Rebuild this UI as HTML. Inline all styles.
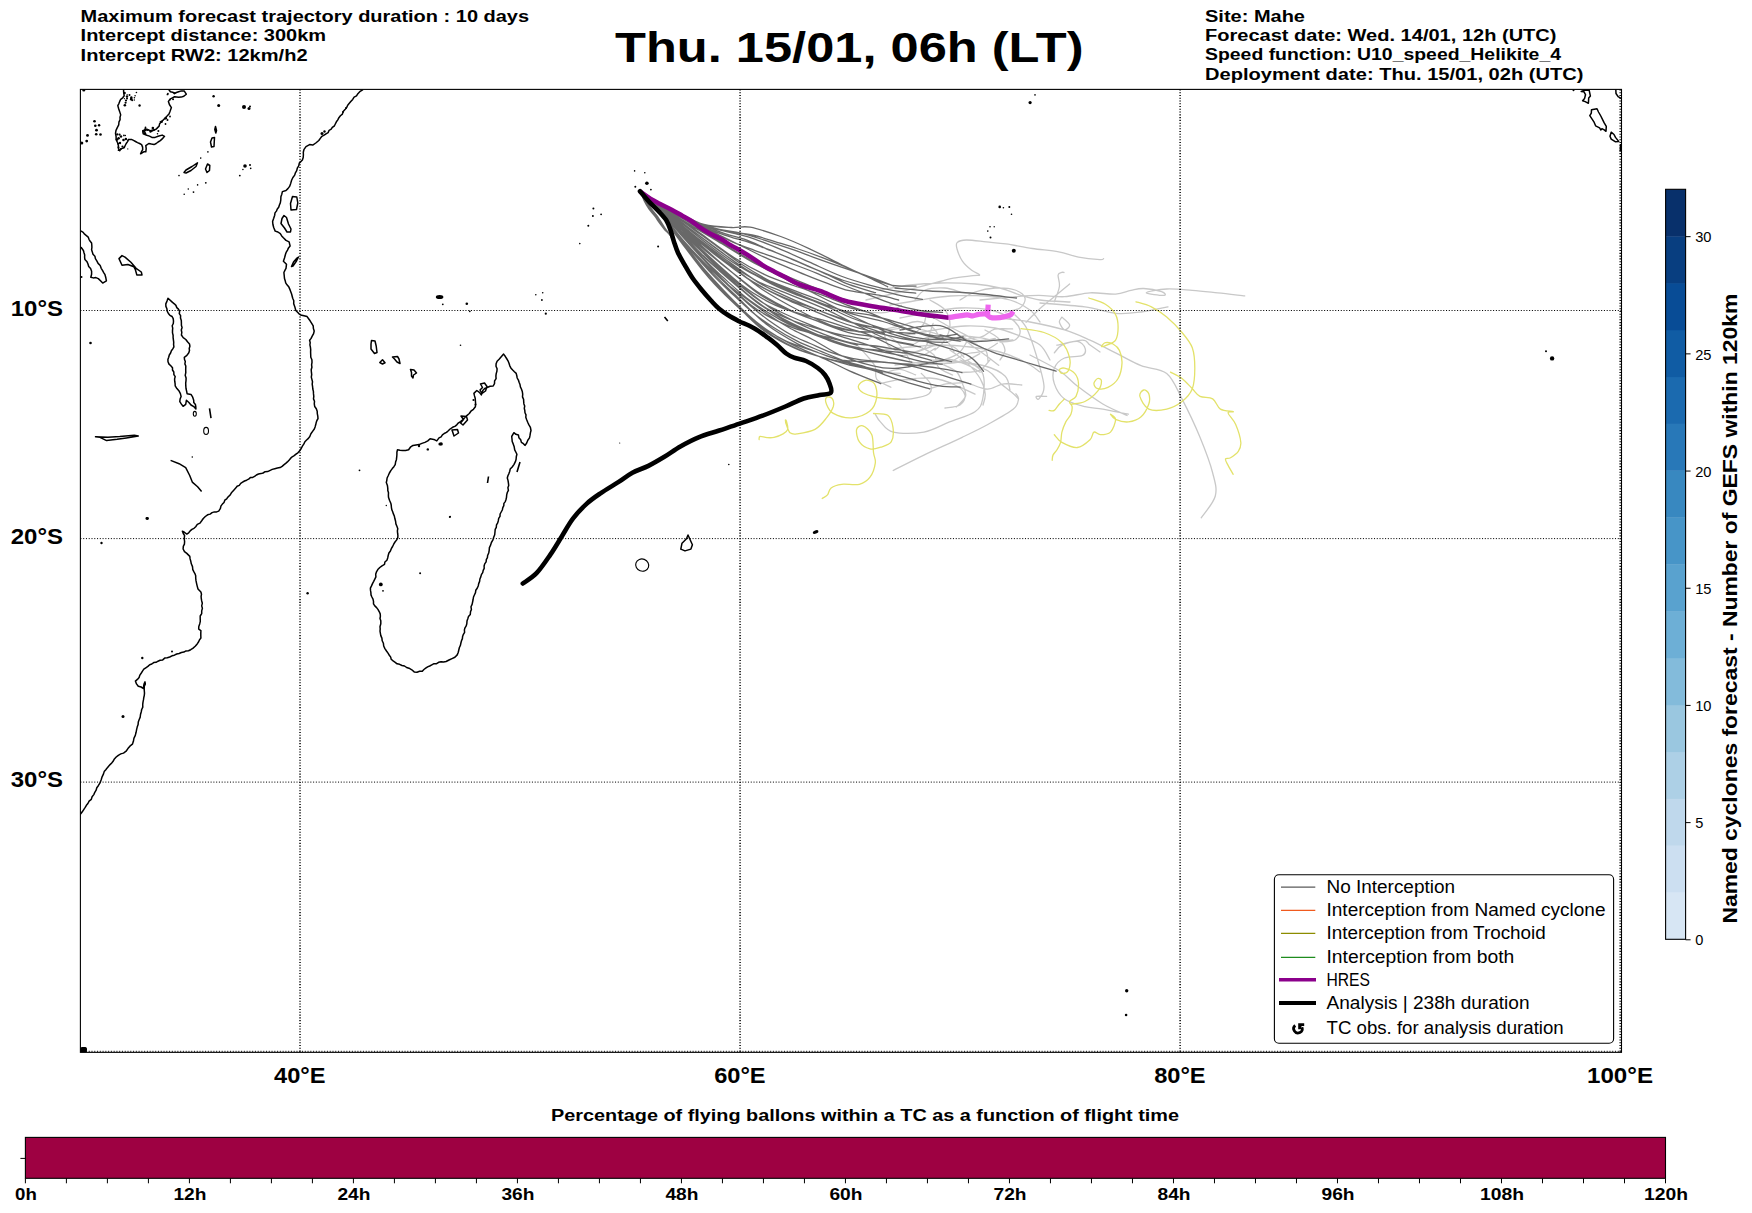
<!DOCTYPE html>
<html><head><meta charset="utf-8"><style>
html,body{margin:0;padding:0;background:#fff;width:1752px;height:1213px;overflow:hidden}
svg{display:block}
text{font-family:"Liberation Sans", sans-serif;fill:#000}
</style></head><body>
<svg width="1752" height="1213" viewBox="0 0 1752 1213">
<defs><clipPath id="mc"><rect x="80.4" y="89.4" width="1541" height="963"/></clipPath></defs>
<g clip-path="url(#mc)"><path d="M123.6 89.0 L123.6 91.8 L124.2 95.8 L122.7 97.8 L120.7 99.3 L119.7 101.4 L118.9 103.6 L117.8 105.6 L118.6 108.5 L119.6 111.4 L120.7 114.9 L120.0 117.2 L120.1 119.6 L119.0 121.8 L118.7 124.9 L117.3 127.6 L116.0 130.3 L115.5 133.3 L116.1 136.5 L116.1 139.7 L117.5 142.5 L118.4 145.5 L118.4 148.2 L119.6 150.7 L121.1 148.7 L124.2 147.6 L125.2 145.5 L126.2 143.5 L127.6 141.6 L128.3 139.4 L131.4 139.4 L133.5 140.4 L135.5 141.5 L137.5 142.6 L139.6 143.5 L141.6 144.6 L142.6 147.1 L142.7 149.7 L141.5 151.7 L140.6 153.8 L143.7 151.8 L145.8 151.8 L146.2 148.7 L145.8 145.6 L148.8 143.5 L151.4 144.1 L154.0 144.6 L156.2 143.5 L158.1 142.0 L160.3 140.6 L162.2 138.9 L164.5 136.3 L162.2 135.1 L158.1 136.3 L155.1 137.4 L151.9 137.4 L149.5 136.1 L146.8 135.3 L143.2 133.8 L142.7 130.7 L146.8 129.2 L149.3 130.3 L151.9 131.2 L153.8 130.0 L156.0 129.2 L159.1 126.1 L159.6 123.8 L161.2 122.0 L164.2 118.9 L167.3 115.8 L169.0 114.0 L169.9 111.7 L171.4 107.6 L169.4 104.5 L168.4 101.4 L170.4 98.8 L172.4 97.8 L174.5 96.8 L178.6 97.3 L181.2 97.1 L183.8 96.3 L186.3 94.2 L184.3 91.1 L181.4 90.9 L178.6 91.7 L176.4 92.5 L174.5 93.7 L172.7 92.2 L170.4 91.7 L168.4 89.0 Z M122.0 255.6 L119.0 258.6 L122.0 265.3 L127.9 264.5 L133.9 266.8 L135.4 269.7 L136.8 274.9 L142.0 274.9 L141.3 272.0 L136.1 268.3 L130.9 262.3 L125.0 257.1 Z M168.0 298.2 L167.0 301.1 L165.8 303.9 L165.9 306.4 L166.9 308.8 L167.3 311.3 L168.4 313.5 L169.9 315.3 L172.1 316.5 L173.2 318.7 L173.5 321.1 L173.3 323.5 L172.2 325.8 L172.7 328.2 L172.5 330.6 L172.5 332.9 L173.1 335.2 L173.1 337.6 L173.4 339.9 L173.7 342.2 L173.6 344.6 L173.9 346.9 L172.8 348.9 L171.4 350.8 L170.6 353.0 L169.3 355.0 L168.7 357.3 L167.9 359.4 L168.0 361.7 L169.0 364.1 L170.8 365.8 L172.5 367.7 L172.5 370.0 L173.8 372.0 L173.9 374.6 L175.2 376.6 L174.6 378.9 L174.7 381.2 L175.1 383.5 L175.2 385.8 L176.9 388.6 L179.1 391.1 L180.4 393.6 L181.1 396.4 L180.1 399.0 L179.8 401.7 L181.4 404.1 L183.1 406.3 L185.7 404.3 L186.4 400.3 L188.9 402.5 L191.0 405.0 L193.8 406.6 L195.9 409.0 L195.8 406.7 L195.4 404.5 L193.8 402.6 L193.7 400.3 L192.7 397.2 L191.0 394.4 L187.1 393.7 L186.6 391.1 L186.0 388.5 L185.8 385.9 L185.7 383.2 L186.0 380.6 L186.1 377.9 L185.2 375.3 L185.8 372.6 L185.7 370.0 L185.8 366.0 L184.9 363.9 L185.3 361.6 L184.5 359.5 L184.3 357.3 L186.9 355.4 L188.8 352.8 L189.5 350.6 L189.2 348.4 L189.9 346.2 L189.5 343.9 L187.5 341.8 L185.8 339.5 L183.2 337.6 L181.4 335.0 L181.8 332.5 L181.3 330.0 L182.1 327.6 L181.4 325.3 L181.4 322.9 L181.3 320.4 L180.5 318.1 L180.6 315.7 L179.3 313.7 L179.6 311.2 L178.4 309.1 L176.8 307.6 L175.9 305.4 L174.3 303.8 L172.5 302.4 Z M95.5 436.8 L100.0 437.3 L106.6 440.6 L117.1 439.3 L126.4 437.9 L138.3 436.0 L134.3 435.3 L119.8 436.6 L107.9 437.3 Z M184.0 172.5 L186.0 170.0 L192.0 166.5 L197.5 162.8 L196.0 166.5 L191.0 170.5 L186.0 173.0 Z M207.5 164.0 L209.8 165.5 L209.5 170.5 L207.0 172.5 L205.5 169.0 Z M215.5 126.5 L216.5 130.5 L215.8 133.0 L214.8 129.5 Z M212.0 138.0 L214.5 137.5 L214.0 146.5 L211.5 147.0 L210.5 142.0 Z M503.6 354.1 L505.2 356.3 L506.6 358.5 L508.0 360.8 L509.0 363.3 L509.8 365.8 L511.0 368.2 L512.7 370.0 L514.4 371.7 L516.2 373.4 L516.8 375.7 L517.2 378.0 L518.4 380.1 L519.1 382.3 L520.0 384.5 L520.4 386.9 L521.4 389.0 L522.3 391.5 L522.7 394.2 L522.5 396.9 L523.6 399.4 L523.7 401.6 L523.9 403.9 L524.7 406.0 L524.3 408.3 L524.8 410.5 L525.0 412.8 L526.0 414.9 L525.8 417.2 L526.7 419.7 L527.7 422.2 L528.8 424.6 L530.4 427.4 L531.0 430.5 L530.4 432.9 L530.0 435.4 L529.5 437.9 L527.8 440.3 L526.7 443.0 L525.1 445.4 L523.4 443.7 L521.4 442.4 L520.7 439.8 L518.9 437.7 L518.4 435.0 L515.9 434.3 L513.9 432.7 L511.7 436.5 L512.0 439.0 L512.2 441.5 L513.2 443.9 L514.2 446.8 L514.7 449.8 L515.8 452.0 L516.9 454.3 L516.3 456.7 L516.1 459.3 L515.4 461.7 L513.9 464.6 L512.2 467.0 L510.2 469.1 L509.7 471.4 L508.9 473.6 L507.9 475.7 L507.3 478.0 L508.0 480.4 L508.4 482.9 L508.7 485.4 L507.9 487.7 L508.4 490.3 L507.3 492.5 L506.7 494.9 L506.5 497.3 L506.0 499.5 L505.3 501.6 L503.9 503.4 L503.8 505.7 L502.8 507.7 L502.3 510.0 L501.2 512.0 L500.1 514.0 L500.0 516.4 L498.7 518.4 L498.3 520.7 L497.7 522.9 L496.5 524.9 L496.3 527.3 L495.2 529.4 L495.0 531.7 L494.7 534.7 L493.6 537.6 L492.8 540.2 L491.4 542.5 L490.6 545.1 L489.4 547.6 L489.2 550.3 L488.7 553.0 L487.6 555.5 L487.4 557.7 L486.3 559.7 L486.1 561.9 L484.7 563.9 L484.1 566.0 L484.2 568.3 L483.2 570.3 L482.7 572.6 L481.4 574.6 L480.8 576.9 L479.9 579.0 L479.6 581.4 L478.7 583.6 L478.2 586.0 L477.2 588.2 L475.8 590.2 L475.5 592.6 L474.5 594.8 L473.5 597.0 L473.1 599.5 L472.6 602.0 L472.1 604.4 L471.0 606.8 L471.4 609.4 L470.5 611.8 L470.3 614.4 L468.5 616.4 L467.8 618.8 L467.0 621.1 L466.8 623.7 L466.2 625.9 L465.0 627.8 L464.4 629.9 L464.6 632.3 L463.4 634.3 L462.6 636.4 L462.4 638.6 L461.5 640.8 L460.9 643.0 L460.4 645.4 L459.4 647.5 L458.8 650.0 L458.2 652.5 L457.2 654.9 L454.9 657.2 L452.0 658.6 L449.0 660.0 L446.1 661.5 L443.6 662.0 L441.1 661.7 L438.6 662.3 L436.6 663.7 L434.0 663.7 L431.8 664.9 L429.7 666.0 L427.6 666.9 L425.7 668.2 L423.9 669.5 L422.3 671.2 L419.6 671.3 L417.0 672.2 L414.2 671.9 L411.8 669.8 L409.0 668.2 L406.6 667.5 L404.5 666.0 L402.0 665.5 L399.6 664.3 L397.1 663.8 L395.2 662.3 L393.1 660.9 L391.2 659.3 L390.7 657.1 L389.3 655.3 L388.2 653.4 L386.5 651.0 L384.9 648.6 L383.7 646.0 L383.4 643.3 L382.2 640.8 L381.9 638.1 L380.8 635.6 L380.4 633.4 L380.0 631.2 L380.2 628.9 L380.0 626.7 L380.8 623.8 L380.8 620.7 L380.0 618.5 L380.4 616.2 L380.2 613.9 L379.3 611.8 L378.1 609.6 L376.6 607.6 L374.8 605.9 L373.5 603.9 L373.5 601.4 L373.0 599.1 L371.9 597.0 L371.0 594.9 L370.9 592.6 L370.5 590.4 L370.4 588.1 L371.5 585.9 L372.5 583.6 L373.7 581.4 L374.8 579.2 L375.9 576.9 L375.7 574.2 L376.5 571.8 L377.8 569.6 L379.8 567.5 L382.0 565.8 L384.5 564.4 L384.9 562.0 L386.9 560.2 L387.7 557.9 L388.2 555.5 L388.9 553.0 L390.4 551.0 L391.3 548.7 L392.6 546.5 L393.7 544.2 L395.0 542.0 L396.7 539.9 L397.8 537.6 L397.9 535.4 L397.6 533.2 L397.4 530.9 L397.8 528.7 L396.9 526.3 L395.9 523.9 L395.6 521.3 L394.9 518.8 L394.4 516.3 L393.4 513.9 L392.7 511.7 L391.8 509.6 L391.4 507.3 L391.2 505.0 L390.8 503.2 L389.5 500.3 L388.5 497.3 L388.4 495.1 L388.5 492.8 L387.8 490.6 L387.8 488.4 L387.4 485.4 L386.3 482.5 L386.8 480.3 L387.1 478.0 L388.3 475.5 L389.4 473.0 L390.8 470.6 L392.3 468.6 L393.9 466.7 L395.2 464.6 L395.6 462.1 L396.4 459.7 L396.7 457.2 L396.9 454.7 L396.9 452.2 L397.5 449.8 L400.0 450.2 L402.6 450.5 L405.6 450.4 L408.6 449.8 L410.4 447.2 L413.0 445.4 L416.0 444.9 L419.0 444.6 L421.9 443.4 L424.9 442.4 L427.8 440.9 L430.1 438.7 L433.8 439.4 L436.8 440.9 L439.0 437.9 L441.1 436.8 L442.4 434.9 L444.2 433.5 L446.5 432.4 L448.3 430.8 L450.1 429.0 L452.6 427.3 L455.3 426.1 L457.0 424.6 L458.5 422.8 L460.5 421.6 L463.0 419.7 L465.0 417.2 L467.1 415.3 L469.3 413.5 L470.9 411.2 L473.4 409.3 L475.4 406.8 L475.6 403.8 L475.4 400.8 L475.2 398.3 L474.5 395.9 L473.9 393.4 L476.8 390.5 L479.4 392.4 L481.3 394.9 L482.1 392.7 L482.8 390.5 L484.7 388.5 L487.2 387.5 L490.1 386.3 L493.2 386.0 L494.5 383.7 L494.6 380.9 L496.1 378.6 L495.9 376.1 L496.2 373.6 L496.9 371.2 L497.1 368.7 L496.0 366.2 L496.1 363.7 L497.1 361.2 L499.1 359.3 Z M1591.5 109.7 L1597.0 108.8 L1598.5 112.0 L1600.8 116.0 L1604.2 122.9 L1606.3 126.4 L1606.0 131.3 L1604.2 129.9 L1601.9 128.7 L1600.8 129.9 L1599.6 127.8 L1595.6 125.8 L1593.9 121.8 L1589.8 115.7 L1591.3 113.1 Z M1611.2 132.2 L1614.0 134.5 L1615.5 137.4 L1618.7 141.4 L1615.2 141.7 L1611.2 139.1 L1610.0 136.2 Z M1581.2 91.5 L1585.2 90.0 L1589.2 90.3 L1590.4 96.1 L1588.7 98.1 L1588.4 103.3 L1585.2 101.6 L1582.6 100.7 L1584.6 98.4 L1585.5 94.7 L1584.0 91.8 Z M688.0 535.0 L692.4 544.7 L690.9 549.1 L685.0 550.9 L680.8 549.1 L682.0 543.2 L686.5 538.7 Z M371.5 340.5 L375.0 341.0 L376.2 346.0 L377.0 352.5 L374.5 353.5 L371.0 349.0 L371.0 344.0 Z M410.5 369.5 L414.0 370.0 L416.5 373.0 L413.5 375.0 L413.0 378.0 L411.5 376.0 L411.5 372.5 Z M392.5 357.0 L397.5 356.5 L399.0 359.0 L400.0 363.5 L397.0 362.0 L394.5 359.0 Z M379.8 362.5 L382.5 359.8 L385.0 362.8 L382.5 364.0 Z M480.5 384.0 L484.5 383.0 L487.0 386.5 L485.5 391.0 L482.0 393.5 L480.0 390.0 L482.5 387.5 Z M461.0 416.0 L466.5 416.5 L467.5 420.0 L463.0 425.0 L460.5 423.0 L463.5 419.5 Z M452.0 430.0 L457.5 429.5 L458.5 433.0 L454.0 436.0 Z M292.5 196.5 L296.8 197.0 L297.8 203.0 L296.5 209.5 L291.0 210.0 L290.5 203.5 Z M284.0 215.5 L286.5 217.5 L288.5 224.0 L291.0 229.0 L290.5 232.0 L287.0 232.0 L284.5 228.0 L281.0 223.5 L282.0 218.5 Z M298.5 257.0 L296.5 261.0 L293.0 266.0 L291.5 266.5 L293.5 262.0 L297.0 258.0 Z M363.0 89.6 L360.2 91.3 L357.9 93.7 L356.5 95.9 L354.1 97.2 L352.7 99.4 L351.0 101.3 L349.3 103.3 L347.7 105.2 L346.6 107.6 L345.0 109.6 L343.2 111.5 L342.4 114.1 L340.4 115.8 L338.9 117.7 L337.8 119.9 L336.4 121.8 L335.3 124.0 L334.3 126.0 L332.3 127.3 L331.2 129.2 L329.1 130.3 L328.1 132.7 L326.0 133.8 L324.1 135.2 L321.9 136.3 L320.3 138.4 L318.8 140.5 L315.8 143.0 L312.7 145.1 L309.6 144.6 L306.0 146.6 L303.9 149.7 L303.3 152.2 L303.4 154.8 L303.2 157.5 L302.4 160.0 L299.3 163.1 L298.7 165.8 L297.3 168.2 L296.7 170.6 L295.4 172.8 L294.7 175.1 L292.9 177.5 L291.6 180.3 L290.7 183.4 L289.6 186.4 L287.9 188.6 L286.0 190.5 L282.4 191.6 L281.8 194.2 L280.9 196.7 L280.8 199.8 L280.3 202.9 L279.4 205.0 L278.7 207.2 L277.3 209.0 L276.4 211.1 L275.0 212.9 L274.7 215.2 L273.7 218.3 L272.6 221.4 L272.9 224.5 L273.7 227.5 L275.2 231.1 L277.9 232.0 L280.3 233.7 L281.7 235.9 L283.4 237.8 L286.0 240.4 L289.1 241.9 L290.1 246.0 L288.5 247.9 L287.5 250.1 L286.3 252.1 L285.5 254.3 L284.5 258.0 L283.4 261.2 L286.5 264.2 L286.0 268.4 L284.9 270.4 L283.9 272.5 L284.2 275.5 L284.5 278.6 L285.2 280.7 L285.7 282.9 L287.0 284.8 L288.9 287.1 L290.1 289.9 L291.6 294.0 L292.7 298.2 L293.8 300.8 L293.7 303.7 L294.7 306.4 L295.8 310.5 L298.8 313.6 L300.6 315.0 L302.9 315.6 L307.1 316.6 L308.6 318.7 L310.1 320.8 L311.7 323.3 L313.2 325.9 L313.4 328.5 L314.2 331.0 L313.6 333.7 L312.2 336.2 L311.1 338.4 L309.6 340.3 L310.2 342.6 L309.9 344.9 L310.4 347.2 L310.7 349.6 L310.6 351.9 L310.7 354.5 L310.8 357.2 L311.9 359.7 L312.0 362.3 L311.6 364.8 L311.9 367.2 L311.2 369.7 L311.4 372.2 L311.7 374.6 L311.3 377.1 L311.9 379.4 L312.5 381.8 L312.2 384.2 L312.6 386.6 L312.8 389.0 L313.4 391.4 L313.5 393.9 L313.8 396.4 L313.5 398.9 L314.5 401.3 L314.3 403.8 L314.7 406.5 L316.3 408.7 L317.2 411.2 L317.3 413.7 L317.8 416.1 L318.0 418.6 L316.9 420.5 L316.2 422.6 L315.7 424.8 L315.1 426.9 L314.3 429.0 L312.6 431.4 L310.9 433.8 L309.8 436.5 L308.4 438.4 L306.6 440.0 L304.9 441.7 L303.9 443.9 L302.4 446.1 L301.2 448.5 L299.7 450.8 L297.9 452.8 L296.0 454.1 L294.2 455.6 L292.2 456.8 L290.5 458.4 L289.0 460.2 L287.4 461.9 L285.7 463.4 L283.8 464.9 L282.1 466.4 L280.1 467.6 L277.4 468.1 L274.8 468.7 L272.2 469.4 L269.7 470.6 L267.6 471.6 L265.1 471.7 L263.1 473.0 L260.9 473.6 L258.5 474.0 L256.4 475.0 L254.6 476.4 L252.7 477.4 L250.3 477.6 L248.6 479.2 L246.6 480.2 L244.5 481.0 L242.6 482.2 L240.7 483.4 L239.3 485.4 L237.1 486.2 L235.7 488.1 L234.2 489.7 L232.6 491.4 L231.1 493.3 L229.9 495.3 L228.1 496.9 L226.7 498.8 L224.8 500.2 L224.0 502.4 L222.4 504.1 L221.0 505.9 L220.3 508.7 L218.7 511.1 L216.6 511.9 L214.3 511.9 L212.1 512.6 L210.1 514.1 L207.6 514.8 L205.3 516.5 L203.3 518.5 L201.7 520.8 L200.0 523.1 L197.3 524.4 L195.7 526.7 L194.0 528.3 L191.9 529.4 L190.2 530.9 L188.7 532.8 L186.8 534.1 L184.7 532.5 L182.4 531.2 L183.3 533.5 L184.6 535.6 L184.2 538.5 L184.6 541.5 L184.4 544.1 L183.3 546.4 L183.1 549.0 L184.5 551.6 L186.8 553.4 L189.8 556.4 L190.1 558.9 L190.8 561.3 L191.3 563.8 L192.5 566.6 L192.8 569.7 L193.8 571.7 L194.9 573.6 L195.7 575.7 L195.7 578.2 L196.0 580.7 L196.5 583.1 L197.2 586.1 L198.0 589.0 L200.9 592.0 L201.5 594.2 L201.1 596.5 L201.3 598.7 L201.7 600.9 L202.3 603.3 L201.7 605.9 L202.4 608.3 L201.7 610.9 L201.7 613.6 L200.2 616.0 L200.2 618.7 L200.3 621.4 L199.7 623.9 L198.8 626.5 L198.7 629.1 L200.9 630.6 L200.8 633.1 L200.8 635.5 L200.9 638.0 L199.5 639.9 L198.5 642.0 L197.2 643.9 L195.2 646.3 L192.8 648.4 L190.7 649.7 L188.5 650.7 L186.0 650.9 L183.9 652.1 L181.4 652.5 L179.1 653.5 L176.7 654.0 L174.4 655.2 L172.0 655.8 L169.7 657.0 L167.3 657.7 L164.7 658.1 L162.7 659.9 L160.1 660.3 L158.0 661.2 L156.1 662.3 L153.7 662.6 L151.8 664.0 L149.7 664.7 L147.9 666.4 L145.8 667.8 L143.8 669.2 L142.5 671.1 L141.3 673.0 L139.9 675.1 L139.1 677.4 L137.4 679.4 L135.4 681.1 L136.5 683.9 L138.3 686.3 L141.1 687.0 L143.5 688.5 L143.7 686.2 L144.0 684.0 L145.0 681.9 L145.3 684.2 L144.3 686.3 L144.2 688.6 L144.3 690.8 L144.5 693.1 L144.3 695.3 L143.8 697.5 L143.5 699.7 L143.0 702.1 L142.7 704.6 L142.8 707.1 L141.7 709.5 L141.2 712.0 L140.5 714.5 L140.2 717.1 L139.2 719.5 L138.3 721.9 L138.1 724.6 L137.2 727.1 L136.6 729.7 L136.1 732.3 L135.3 735.4 L133.9 738.3 L133.4 741.3 L132.4 744.2 L129.9 746.2 L127.9 748.6 L126.1 751.2 L123.5 753.1 L120.8 753.9 L118.3 755.3 L116.2 757.0 L114.4 758.9 L113.1 761.3 L111.7 763.0 L110.1 764.6 L108.6 766.2 L107.2 767.9 L105.8 769.8 L104.2 771.6 L103.5 773.9 L102.1 776.8 L101.2 779.8 L100.0 782.9 L98.3 785.7 L96.8 787.7 L96.1 790.2 L94.8 792.3 L93.8 794.6 L92.1 796.7 L91.3 799.4 L89.1 801.1 L87.9 803.5 L86.4 805.3 L85.2 807.4 L83.9 809.3 L82.6 811.3 L81.2 813.2 L79.0 816.5 M79.0 230.5 L81.2 231.2 L83.2 232.4 L84.6 234.2 L86.4 235.6 L88.2 237.1 L89.0 239.3 L90.2 241.3 L91.6 243.0 L91.8 245.2 L91.9 247.5 L91.6 249.7 L92.3 251.9 L93.0 254.3 L94.9 256.2 L95.4 258.7 L96.8 260.8 L98.1 263.4 L100.2 265.5 L101.2 268.3 L102.5 270.4 L103.7 272.6 L105.0 274.7 L105.7 277.2 L106.4 280.9 L102.7 283.1 L100.5 280.8 L98.3 278.6 L95.9 277.6 L93.3 277.9 L90.8 277.2 L91.6 274.3 L91.6 271.2 L90.6 268.6 L88.7 266.5 L87.9 263.8 L86.8 261.4 L84.9 259.4 L84.6 257.2 L84.7 254.9 L84.0 252.7 L83.4 250.5 L81.2 247.5 L79.0 246.0 M170.6 460.4 L179.1 463.7 L185.7 467.6 L189.7 475.5 L192.3 482.1 L197.6 486.7 L201.6 491.4 M1615.8 89.0 L1616.0 93.5 L1618.1 96.7 L1621.5 98.6" fill="none" stroke="#000" stroke-width="1.5" stroke-linejoin="round"/><ellipse cx="194.8" cy="413.8" rx="1.5" ry="2.4" fill="none" stroke="#000" stroke-width="1.1"/><ellipse cx="206.1" cy="430.9" rx="2.4" ry="3.5" fill="none" stroke="#000" stroke-width="1.1"/><ellipse cx="815.6" cy="532.0" rx="3.0" ry="1.7" fill="#000" transform="rotate(-20 815.6 532)"/><ellipse cx="439.6" cy="297.0" rx="3.8" ry="2.0" fill="#000"/><ellipse cx="642.2" cy="565.1" rx="6.6" ry="6.1" fill="none" stroke="#000" stroke-width="1.15" transform="rotate(20 642.2 565.1)"/><g fill="#000"><circle cx="83.8" cy="90.0" r="1.6"/><circle cx="94.5" cy="121.2" r="1.3"/><circle cx="95.3" cy="125.8" r="1.3"/><circle cx="99.1" cy="125.3" r="1.2"/><circle cx="96.5" cy="130.2" r="1.4"/><circle cx="96.2" cy="134.2" r="1.3"/><circle cx="100.5" cy="134.5" r="1.3"/><circle cx="87.5" cy="135.4" r="1.4"/><circle cx="86.7" cy="141.1" r="1.4"/><circle cx="81.8" cy="142.9" r="1.5"/><circle cx="147.5" cy="518.5" r="1.4"/><circle cx="101.5" cy="543.0" r="1.2"/><circle cx="142.3" cy="658.0" r="1.2"/><circle cx="172.0" cy="651.4" r="1.0"/><circle cx="123.0" cy="716.5" r="1.5"/><circle cx="359.5" cy="470.3" r="0.9"/><circle cx="460.5" cy="345.2" r="0.8"/><circle cx="449.8" cy="516.9" r="1.0"/><circle cx="420.1" cy="573.3" r="1.0"/><circle cx="380.8" cy="584.4" r="1.9"/><circle cx="383.0" cy="590.8" r="0.9"/><circle cx="386.3" cy="505.5" r="0.7"/><circle cx="450.1" cy="516.6" r="0.9"/><circle cx="441.2" cy="443.9" r="1.6"/><circle cx="634.6" cy="170.9" r="0.8"/><circle cx="644.8" cy="172.8" r="0.8"/><circle cx="646.9" cy="183.2" r="1.8"/><circle cx="635.3" cy="186.8" r="1.0"/><circle cx="650.9" cy="189.6" r="0.9"/><circle cx="639.7" cy="191.2" r="1.5"/><circle cx="593.4" cy="208.4" r="1.0"/><circle cx="592.9" cy="215.9" r="1.0"/><circle cx="601.1" cy="214.3" r="0.9"/><circle cx="588.3" cy="225.8" r="1.0"/><circle cx="579.8" cy="243.6" r="0.8"/><circle cx="658.1" cy="246.6" r="1.0"/><circle cx="442.8" cy="304.3" r="0.9"/><circle cx="466.8" cy="303.8" r="1.3"/><circle cx="469.8" cy="311.3" r="0.9"/><circle cx="535.8" cy="294.7" r="0.8"/><circle cx="542.7" cy="292.8" r="0.8"/><circle cx="541.9" cy="300.0" r="0.9"/><circle cx="545.8" cy="313.7" r="1.1"/><circle cx="619.7" cy="443.0" r="0.6"/><circle cx="728.8" cy="464.5" r="0.8"/><circle cx="1035.0" cy="94.9" r="0.8"/><circle cx="1030.1" cy="102.6" r="1.6"/><circle cx="999.7" cy="206.9" r="1.3"/><circle cx="1003.4" cy="207.7" r="0.8"/><circle cx="1009.3" cy="206.9" r="1.0"/><circle cx="1011.5" cy="214.3" r="0.8"/><circle cx="990.0" cy="226.7" r="0.8"/><circle cx="994.2" cy="226.7" r="0.7"/><circle cx="987.8" cy="231.1" r="0.8"/><circle cx="990.5" cy="237.6" r="1.0"/><circle cx="1013.8" cy="250.7" r="2.0"/><circle cx="1126.7" cy="990.8" r="1.7"/><circle cx="1126.1" cy="1015.0" r="1.3"/><circle cx="1546.0" cy="351.2" r="1.0"/><circle cx="1552.1" cy="358.4" r="2.2"/><circle cx="1573.5" cy="90.3" r="1.0"/><circle cx="307.6" cy="593.3" r="1.2"/><circle cx="90.5" cy="343.0" r="1.3"/><circle cx="81.5" cy="277.0" r="1.0"/><circle cx="192.3" cy="457.0" r="0.8"/><circle cx="146.8" cy="518.4" r="1.3"/><circle cx="213.6" cy="96.3" r="1.2"/><circle cx="179.0" cy="175.6" r="0.8"/><circle cx="207.9" cy="151.9" r="0.8"/><circle cx="200.7" cy="158.1" r="0.8"/><circle cx="205.8" cy="182.8" r="0.9"/><circle cx="184.2" cy="194.2" r="0.8"/><circle cx="188.3" cy="189.0" r="0.8"/><circle cx="193.5" cy="192.1" r="0.9"/><circle cx="197.6" cy="184.9" r="0.8"/><circle cx="239.8" cy="175.6" r="0.9"/><circle cx="242.9" cy="169.5" r="0.8"/><circle cx="250.7" cy="168.4" r="0.8"/><circle cx="124.5" cy="93.0" r="1.3"/><circle cx="127.0" cy="96.5" r="1.2"/><circle cx="129.5" cy="95.0" r="1.0"/><circle cx="126.0" cy="100.5" r="1.1"/><circle cx="131.0" cy="99.0" r="0.9"/><circle cx="121.0" cy="136.5" r="1.2"/><circle cx="123.5" cy="140.0" r="1.3"/><circle cx="120.0" cy="143.0" r="1.2"/><circle cx="122.5" cy="146.5" r="1.1"/><circle cx="118.5" cy="147.5" r="1.0"/><circle cx="144.0" cy="131.5" r="1.1"/><circle cx="147.5" cy="130.0" r="1.0"/><circle cx="150.5" cy="131.5" r="1.2"/><circle cx="154.0" cy="130.0" r="1.0"/><circle cx="145.5" cy="127.5" r="0.9"/><circle cx="167.5" cy="120.0" r="1.0"/><circle cx="170.0" cy="116.5" r="0.9"/><circle cx="165.5" cy="124.0" r="0.9"/><circle cx="440.0" cy="444.0" r="1.6"/><circle cx="427.8" cy="449.4" r="1.2"/><circle cx="419.0" cy="446.0" r="1.2"/><circle cx="473.5" cy="400.0" r="1.1"/><circle cx="475.5" cy="404.5" r="1.0"/><circle cx="322.0" cy="133.5" r="1.5"/><circle cx="324.5" cy="131.5" r="1.2"/><circle cx="346.0" cy="108.0" r="1.0"/><circle cx="343.0" cy="112.0" r="0.9"/><circle cx="218.7" cy="105.5" r="1.5"/><circle cx="244.0" cy="107.0" r="2.0"/><circle cx="249.0" cy="108.5" r="1.5"/><circle cx="245.0" cy="166.0" r="1.8"/><circle cx="250.0" cy="165.0" r="1.0"/><circle cx="250.0" cy="106.5" r="1.0"/><circle cx="131.1666451240512" cy="99.16072235955914" r="1.2469474088166106"/><circle cx="131.37101107953652" cy="98.4129143320967" r="1.011169380194928"/><circle cx="127.0437692953651" cy="98.471484402202" r="1.0409179041517613"/><circle cx="136.41184383680726" cy="92.45537776970075" r="0.8123808838371678"/><circle cx="125.59632627737433" cy="102.75888129488736" r="1.0854069377788673"/><circle cx="124.84495718009563" cy="105.24358525950241" r="1.2753304467878968"/><circle cx="134.27040701642113" cy="99.96410294593142" r="0.7102458665981137"/><circle cx="124.43101134902392" cy="98.70869023285489" r="0.6416857736181985"/><circle cx="127.1292072470881" cy="94.58397939677909" r="0.621057812457352"/><circle cx="131.3445907028386" cy="97.44364807985585" r="1.1896989899629724"/><circle cx="132.19451136736677" cy="100.32020059403615" r="0.9498412065447541"/><circle cx="134.40172279111167" cy="97.68555029503362" r="0.79471402976472"/><circle cx="139.56390548713148" cy="105.43795963984927" r="1.1881508846450033"/><circle cx="135.10026817106842" cy="95.63999192502392" r="0.7607661311255339"/><circle cx="119.5551913519647" cy="134.59913474185865" r="1.136401520487285"/><circle cx="120.92491760049745" cy="148.9617970048018" r="0.8705594721941541"/><circle cx="127.78392131483372" cy="148.9752308061019" r="0.6003814559388994"/><circle cx="118.57952420117422" cy="150.14003066992737" r="0.9289910932095665"/><circle cx="128.0584149764438" cy="140.6523511794667" r="0.6511268406835885"/><circle cx="123.7422954204785" cy="147.70245088551806" r="0.7888429107950998"/><circle cx="117.07187363973169" cy="139.45283407107195" r="1.2748533516156348"/><circle cx="125.32389835902325" cy="135.4828460692617" r="0.7724715642251909"/><circle cx="117.24286960016747" cy="134.40802795440993" r="1.157915058290782"/><circle cx="118.1854409768399" cy="143.6469601197923" r="0.9131974142507151"/><circle cx="118.3454183080715" cy="146.8400429907155" r="0.6916769586016338"/><circle cx="123.91769602164736" cy="135.45539777133456" r="0.8945289320724947"/><circle cx="118.6182477780118" cy="138.29120707802608" r="1.279650339353084"/><circle cx="125.88196148790949" cy="138.92668527261333" r="1.2194055789242797"/><circle cx="145.28742887510268" cy="130.33305202399086" r="1.1980638311908614"/><circle cx="152.83212399033306" cy="127.92272856790784" r="1.2925111882571207"/><circle cx="145.33175895010663" cy="129.21787597446527" r="1.1408827828409762"/><circle cx="147.35671994708528" cy="129.52986305331137" r="0.6513789873718969"/><circle cx="143.17705052683377" cy="131.87842534497392" r="0.7701090440962937"/><circle cx="152.12246726268393" cy="130.14797318206448" r="0.9172456733066943"/><circle cx="158.38485676852798" cy="131.06654117275286" r="1.0021998718009633"/><circle cx="156.7641991865389" cy="128.59918726938523" r="0.7078947232482425"/><circle cx="157.49741529149344" cy="133.80597598556912" r="0.7746489965004747"/><circle cx="144.92151165435703" cy="133.16327999649656" r="1.2582834272664178"/><circle cx="161.6513542813851" cy="121.74070643200496" r="1.217532827986489"/><circle cx="165.06968740418094" cy="118.99157756452625" r="0.6726877769554636"/><circle cx="160.32505036222778" cy="121.8059438595692" r="0.7668850348731879"/><circle cx="165.91846746869038" cy="118.13630327126562" r="1.1766024927301468"/><circle cx="165.01031697485146" cy="118.32586380172063" r="0.7228033777361015"/><circle cx="174.71963927347164" cy="92.76396421817304" r="0.7598774361275876"/><circle cx="173.06147333108729" cy="99.18967897780344" r="1.0300121110074076"/><circle cx="170.1862597434798" cy="99.72235346363912" r="0.7427852155587791"/><circle cx="167.47072036871532" cy="94.4073902098365" r="0.9119938639875116"/><circle cx="167.92269243210526" cy="93.6452809580571" r="0.8581497592605838"/></g><path d="M209.5 408.3 L211.0 418.1 M517.0 472.0 L520.0 462.0 M488.5 476.5 L487.5 483.0 M664.5 317.0 L667.8 321.0 M87.0 1049.5 L80.5 1049.5 M1620.6 144.0 L1620.3 151.5" stroke="#000" stroke-width="1.6" fill="none"/><rect x="80.4" y="1047" width="6.5" height="5.5" rx="1.5" fill="#000"/><g fill="none" stroke-linejoin="round" stroke-linecap="round"><path d="M866.0 300.0 C871.7 298.7 887.7 295.1 900.0 292.0 C912.3 288.9 931.1 283.8 940.0 281.5 C948.9 279.2 947.7 279.2 953.2 278.2 C958.7 277.2 968.6 276.2 973.0 275.6 C977.4 275.1 979.8 275.8 979.6 274.9 C979.4 274.0 974.6 272.6 971.7 270.3 C968.8 268.0 964.8 264.6 962.4 261.1 C960.0 257.6 958.0 252.3 957.1 249.2 C956.2 246.1 955.6 244.1 957.1 242.6 C958.6 241.1 961.5 240.1 966.4 240.0 C971.2 239.9 979.6 241.2 986.2 241.9 C992.8 242.6 998.3 242.8 1006.0 243.9 C1013.7 245.0 1023.5 247.2 1032.3 248.5 C1041.1 249.8 1051.0 250.4 1058.7 251.8 C1066.4 253.2 1071.6 255.8 1078.5 257.1 C1085.4 258.4 1095.8 259.4 1100.0 259.7 C1104.2 259.9 1103.0 258.8 1103.6 258.6 M980.0 300.0 C986.0 299.4 1006.1 297.5 1015.9 296.7 C1025.7 295.9 1030.8 295.4 1038.9 295.4 C1047.0 295.4 1056.0 297.1 1064.5 296.7 C1073.0 296.3 1081.5 293.2 1090.0 292.8 C1098.5 292.4 1108.8 294.5 1115.6 294.1 C1122.4 293.7 1126.2 291.2 1130.9 290.3 C1135.6 289.4 1138.6 288.3 1143.7 288.5 C1148.8 288.7 1158.2 290.5 1161.6 291.6 C1165.0 292.8 1166.6 295.2 1164.1 295.4 C1161.5 295.6 1145.9 293.9 1146.3 292.8 C1146.7 291.7 1159.0 289.4 1166.7 289.0 C1174.4 288.6 1183.8 289.7 1192.3 290.3 C1200.8 290.9 1209.1 291.9 1217.8 292.8 C1226.5 293.7 1240.2 295.4 1244.7 295.9 M1040.0 303.0 C1047.5 303.6 1072.3 305.2 1084.9 306.9 C1097.5 308.6 1106.2 312.4 1115.6 313.3 C1125.0 314.2 1132.4 313.1 1141.1 312.0 C1149.8 310.9 1163.5 307.8 1168.0 306.9 M1000.0 318.0 C1005.0 318.7 1019.2 320.0 1030.0 322.0 C1040.8 324.0 1054.5 326.9 1064.5 329.9 C1074.5 332.9 1081.5 336.3 1090.0 340.1 C1098.5 343.9 1107.1 348.6 1115.6 352.9 C1124.1 357.2 1132.6 362.3 1141.1 365.7 C1149.6 369.1 1159.9 367.9 1166.7 373.4 C1173.5 378.9 1176.5 388.2 1182.0 398.9 C1187.5 409.5 1194.9 424.9 1200.0 437.3 C1205.1 449.7 1210.2 463.2 1212.7 473.0 C1215.2 482.8 1217.2 488.5 1215.3 496.0 C1213.4 503.5 1203.5 514.2 1201.2 517.8 M1030.0 355.0 C1034.9 357.6 1051.5 365.6 1059.4 370.8 C1067.3 376.0 1070.1 380.6 1077.3 386.1 C1084.5 391.6 1094.5 399.1 1102.8 404.0 C1111.1 408.9 1123.0 413.6 1127.1 415.5 M1054.3 352.9 C1055.6 351.6 1058.1 347.1 1061.9 345.2 C1065.7 343.3 1073.5 341.0 1077.3 341.4 C1081.1 341.8 1084.1 345.4 1084.9 347.8 C1085.8 350.2 1085.8 353.8 1082.4 355.5 C1079.0 357.2 1069.2 355.9 1064.5 358.0 C1059.8 360.1 1056.0 363.9 1054.3 368.2 C1052.6 372.5 1052.6 378.5 1054.3 383.6 C1056.0 388.7 1059.4 395.1 1064.5 398.9 C1069.6 402.7 1078.5 404.9 1084.9 406.6 C1091.3 408.3 1095.5 407.8 1102.8 409.1 C1110.0 410.4 1124.1 413.4 1128.4 414.2 M1015.0 315.0 C1016.9 317.1 1022.5 320.6 1026.1 327.3 C1029.7 334.1 1033.4 345.7 1036.4 355.5 C1039.4 365.3 1043.6 378.9 1044.0 386.1 C1044.4 393.3 1040.2 397.2 1038.9 398.9 C1037.6 400.6 1035.1 396.8 1036.4 396.4 C1037.7 396.0 1044.9 396.4 1046.6 396.4 M893.2 470.5 C898.3 467.9 912.4 460.6 923.9 455.1 C935.4 449.6 951.6 442.4 962.2 437.3 C972.9 432.2 979.3 429.2 987.8 424.5 C996.3 419.8 1008.3 413.4 1013.4 409.1 C1018.5 404.8 1018.1 401.4 1018.5 398.9 C1018.9 396.3 1016.3 394.6 1015.9 393.8 M875.3 414.2 C876.1 415.5 877.4 418.9 880.4 421.9 C883.4 424.9 886.0 430.4 893.2 432.1 C900.5 433.8 914.5 433.8 923.9 432.1 C933.3 430.4 941.0 425.3 949.5 421.9 C958.0 418.5 969.5 415.5 975.0 411.7 C980.5 407.9 981.4 405.3 982.7 398.9 C984.0 392.5 985.3 379.8 982.7 373.4 C980.1 367.0 969.9 362.7 967.3 360.6 M893.2 398.9 C896.2 398.9 905.1 399.8 911.1 398.9 C917.1 398.0 925.8 396.4 929.0 393.8 C932.2 391.2 931.6 387.0 930.3 383.6 C929.0 380.2 922.8 375.1 921.3 373.4 M960.0 360.0 C964.6 361.8 981.0 366.9 987.8 370.8 C994.6 374.7 996.3 379.8 1000.6 383.6 C1004.9 387.4 1010.4 391.2 1013.4 393.8 C1016.4 396.4 1017.6 398.0 1018.5 398.9 M950.0 350.0 C952.9 352.2 962.3 358.4 967.3 363.1 C972.3 367.9 977.1 373.4 980.1 378.5 C983.1 383.6 984.7 389.4 985.2 393.8 C985.7 398.2 983.4 403.1 983.0 405.0 M1054.3 301.8 C1055.2 299.2 1058.8 291.0 1059.4 286.5 C1060.0 282.0 1057.7 277.4 1058.1 275.0 C1058.5 272.6 1060.9 272.8 1061.9 272.4 C1062.9 272.0 1063.7 272.5 1064.0 272.5 M1069.6 283.9 C1067.0 286.0 1059.4 292.4 1054.3 296.7 C1049.2 301.0 1043.6 305.2 1038.9 309.5 C1034.2 313.8 1028.2 320.1 1026.1 322.2 M1061.9 317.1 C1063.2 318.4 1069.2 322.7 1069.6 324.8 C1070.0 326.9 1066.2 330.3 1064.5 329.9 C1062.8 329.5 1059.8 324.3 1059.4 322.2 C1059.0 320.1 1061.5 318.0 1061.9 317.1 M1056.8 345.2 C1061.1 344.4 1076.9 340.1 1082.4 340.1 C1087.9 340.1 1087.1 343.0 1090.0 345.0 C1092.9 347.0 1098.3 350.8 1100.0 352.0 M880.0 290.0 C885.0 289.2 900.0 286.2 910.0 285.0 C920.0 283.8 929.2 283.2 940.0 283.0 C950.8 282.8 965.0 283.2 975.0 284.0 C985.0 284.8 992.5 286.2 1000.0 288.0 C1007.5 289.8 1013.3 293.0 1020.0 295.0 C1026.7 297.0 1031.7 298.8 1040.0 300.0 C1048.3 301.2 1065.0 301.7 1070.0 302.0 M890.0 305.0 C895.0 304.2 910.0 301.5 920.0 300.0 C930.0 298.5 939.2 296.7 950.0 296.0 C960.8 295.3 975.0 295.3 985.0 296.0 C995.0 296.7 1002.5 297.7 1010.0 300.0 C1017.5 302.3 1025.0 306.3 1030.0 310.0 C1035.0 313.7 1038.3 320.0 1040.0 322.0 M900.0 318.0 C905.0 317.0 920.0 313.7 930.0 312.0 C940.0 310.3 950.0 308.3 960.0 308.0 C970.0 307.7 981.7 308.3 990.0 310.0 C998.3 311.7 1005.0 314.7 1010.0 318.0 C1015.0 321.3 1019.2 326.3 1020.0 330.0 C1020.8 333.7 1018.3 338.0 1015.0 340.0 C1011.7 342.0 1002.5 341.7 1000.0 342.0 M905.0 335.0 C910.0 334.2 925.0 331.5 935.0 330.0 C945.0 328.5 955.0 326.3 965.0 326.0 C975.0 325.7 985.8 326.3 995.0 328.0 C1004.2 329.7 1012.5 333.2 1020.0 336.0 C1027.5 338.8 1035.0 341.0 1040.0 345.0 C1045.0 349.0 1048.3 357.5 1050.0 360.0 M880.0 350.0 C885.0 349.5 900.0 347.8 910.0 347.0 C920.0 346.2 930.0 345.0 940.0 345.0 C950.0 345.0 960.0 345.8 970.0 347.0 C980.0 348.2 990.8 349.5 1000.0 352.0 C1009.2 354.5 1018.3 358.7 1025.0 362.0 C1031.7 365.3 1037.5 370.3 1040.0 372.0 M895.0 365.0 C900.0 364.5 915.0 362.5 925.0 362.0 C935.0 361.5 945.0 361.3 955.0 362.0 C965.0 362.7 976.7 363.7 985.0 366.0 C993.3 368.3 1000.8 372.0 1005.0 376.0 C1009.2 380.0 1009.2 387.7 1010.0 390.0 M900.0 380.0 C905.0 379.7 920.8 377.2 930.0 378.0 C939.2 378.8 949.2 382.2 955.0 385.0 C960.8 387.8 964.2 391.7 965.0 395.0 C965.8 398.3 963.3 402.8 960.0 405.0 C956.7 407.2 947.5 407.5 945.0 408.0 M960.0 300.0 C962.5 298.7 969.2 294.0 975.0 292.0 C980.8 290.0 988.3 288.3 995.0 288.0 C1001.7 287.7 1010.0 288.3 1015.0 290.0 C1020.0 291.7 1024.2 295.0 1025.0 298.0 C1025.8 301.0 1023.3 305.7 1020.0 308.0 C1016.7 310.3 1007.5 311.3 1005.0 312.0 M930.0 300.0 C932.5 301.7 941.7 305.8 945.0 310.0 C948.3 314.2 950.0 320.0 950.0 325.0 C950.0 330.0 947.5 335.8 945.0 340.0 C942.5 344.2 936.7 348.3 935.0 350.0 M985.0 330.0 C987.2 331.3 994.7 334.7 998.0 338.0 C1001.3 341.3 1004.7 346.3 1005.0 350.0 C1005.3 353.7 1000.8 358.3 1000.0 360.0 M915.0 300.0 C916.7 298.3 920.0 292.0 925.0 290.0 C930.0 288.0 939.2 287.7 945.0 288.0 C950.8 288.3 957.5 291.3 960.0 292.0 M934.1 318.0 C936.4 319.3 943.2 323.4 948.0 326.0 C952.8 328.5 957.7 330.9 962.6 333.3 C967.5 335.7 972.1 339.5 977.5 340.4 C983.0 341.3 992.3 338.8 995.3 338.5 M868.4 312.2 C871.4 312.2 880.9 313.5 886.4 312.4 C891.9 311.2 898.9 306.6 901.5 305.4 M957.5 334.1 C959.7 335.5 966.3 339.9 970.9 342.5 C975.6 345.2 982.6 346.7 985.4 350.0 C988.3 353.3 987.7 360.4 988.1 362.4 M960.1 341.1 C963.0 340.5 971.6 337.7 977.4 337.7 C983.2 337.6 989.0 340.3 994.9 340.7 C1000.8 341.1 1009.9 340.1 1012.9 339.9 M963.1 337.0 L977.4 344.7 M943.0 338.0 C946.0 338.0 955.8 336.8 961.0 338.3 C966.1 339.8 969.5 344.2 973.8 347.1 C978.1 350.1 982.5 352.9 986.6 356.0 C990.8 359.0 996.7 363.8 998.7 365.3 M920.3 329.3 C923.1 330.1 931.4 332.4 936.9 334.1 C942.5 335.7 950.7 338.2 953.5 339.0 M920.3 346.9 C922.5 348.2 930.9 351.6 934.0 355.0 C937.0 358.4 935.4 363.9 938.5 367.2 C941.6 370.6 950.3 373.7 952.6 375.0 M883.7 329.4 C886.6 328.8 895.2 326.9 900.9 325.6 C906.6 324.3 912.5 321.1 917.9 321.5 C923.3 321.9 929.5 325.1 933.2 328.1 C937.0 331.1 939.4 337.7 940.6 339.6 M884.3 333.5 C885.0 335.5 885.3 342.5 888.5 345.7 C891.6 349.0 897.7 351.5 903.1 353.1 C908.4 354.8 915.3 356.5 920.7 355.7 C926.1 354.9 932.9 349.5 935.3 348.3 M947.3 342.4 C949.8 341.3 957.1 336.8 962.7 335.9 C968.2 335.0 975.3 338.3 980.6 337.2 C985.9 336.1 989.3 330.6 994.6 329.2 C999.9 327.9 1009.6 329.0 1012.6 328.9 M914.9 333.6 C916.5 331.8 922.4 326.7 924.3 322.9 C926.1 319.0 925.7 312.4 926.0 310.3 M858.9 331.9 C861.9 331.9 871.3 330.5 876.8 331.5 C882.4 332.6 887.7 335.4 892.0 338.3 C896.4 341.1 899.8 344.8 902.7 348.4 C905.6 352.1 908.4 358.1 909.5 360.1 M913.2 344.6 C915.7 343.4 922.7 338.1 928.1 337.4 C933.5 336.7 941.2 338.0 945.6 340.3 C949.9 342.7 952.6 349.6 954.0 351.4 M931.4 360.3 C934.4 360.2 943.6 358.9 949.4 359.5 C955.2 360.2 960.9 362.2 966.0 364.3 C971.2 366.4 977.8 370.9 980.1 372.2 M942.2 364.1 C944.6 365.4 953.1 368.5 956.5 371.7 C959.9 375.0 960.8 379.6 962.4 383.6 C963.9 387.7 966.6 392.2 965.6 396.0 C964.6 399.9 958.0 405.1 956.5 406.9 M951.5 361.6 C953.9 360.4 960.5 355.7 965.8 354.0 C971.1 352.2 978.1 352.9 983.4 351.2 C988.6 349.4 995.1 344.6 997.4 343.3 M867.9 339.4 C870.3 338.1 876.7 333.3 881.9 331.5 C887.2 329.6 896.5 328.9 899.4 328.4 M902.8 355.9 C905.6 355.1 914.0 352.8 919.5 351.1 C925.0 349.4 930.0 346.2 935.6 345.5 C941.3 344.8 948.8 345.0 953.5 347.0 C958.2 348.9 962.1 355.6 963.9 357.3 M908.5 353.3 C911.2 352.4 921.4 350.9 924.8 348.0 C928.2 345.0 927.7 339.8 929.1 335.7 C930.4 331.6 932.4 325.5 933.1 323.4 M911.8 362.2 C914.7 362.6 923.6 364.2 929.5 364.4 C935.5 364.6 941.5 364.0 947.5 363.4 C953.4 362.9 959.7 362.5 965.1 360.9 C970.5 359.2 977.4 354.9 979.8 353.7 M857.1 345.0 C858.7 346.8 863.8 352.0 866.9 355.6 C869.9 359.2 873.6 362.8 875.2 366.8 C876.9 370.7 874.2 375.9 876.8 379.3 C879.5 382.7 888.6 385.8 890.9 387.2 M944.1 360.0 C946.6 358.8 955.2 356.0 959.0 352.9 C962.8 349.9 965.6 343.5 966.9 341.6 M961.9 372.5 C964.8 372.1 974.9 372.4 979.6 370.3 C984.3 368.2 988.2 361.7 989.9 360.0 M882.3 372.3 L900.2 373.5 M970.9 384.1 C973.7 385.0 982.0 389.1 987.5 389.1 C993.0 389.1 998.1 384.6 1003.9 383.9 C1009.6 383.2 1018.8 384.8 1021.8 385.0 M882.6 373.7 C885.4 373.0 894.0 369.1 899.5 369.3 C904.9 369.5 912.9 374.0 915.6 374.9 M929.6 388.9 C932.3 388.1 940.3 384.9 946.0 383.8 C951.8 382.8 961.0 382.9 964.0 382.7 M880.7 383.6 C883.6 383.0 892.1 380.6 897.9 379.9 C903.8 379.3 912.9 379.9 915.9 379.9 M960.1 387.1 L975.0 394.1" stroke="#c8c8c8" stroke-width="1.3"/><path d="M759.1 439.5 C759.2 439.0 758.7 436.8 760.0 436.5 C761.3 436.2 764.7 437.5 767.0 437.6 C769.3 437.8 771.3 438.0 774.0 437.4 C776.7 436.8 780.8 435.2 783.1 433.9 C785.4 432.6 787.1 431.5 787.7 429.4 C788.3 427.3 786.9 423.0 786.5 421.5 C786.1 420.0 785.4 419.6 785.4 420.2 C785.4 420.8 785.7 422.9 786.5 425.0 C787.3 427.1 788.3 431.3 790.0 432.8 C791.7 434.3 792.6 434.5 796.8 433.9 C801.0 433.3 810.0 432.1 815.0 429.4 C820.0 426.7 823.5 421.7 826.5 417.9 C829.5 414.1 832.3 409.7 833.3 406.5 C834.2 403.3 833.3 400.0 832.2 398.5 C831.1 397.0 827.5 396.4 826.5 397.4 C825.5 398.3 825.4 401.5 826.5 404.2 C827.6 406.9 829.1 411.1 833.3 413.4 C837.5 415.7 845.5 418.3 851.6 417.9 C857.7 417.5 865.7 414.5 869.9 411.1 C874.1 407.7 876.0 402.0 876.7 397.4 C877.5 392.8 876.3 386.5 874.4 383.7 C872.5 380.9 868.0 379.9 865.3 380.3 C862.6 380.7 858.8 383.9 858.4 386.0 C858.0 388.1 860.0 390.9 863.0 392.8 C866.0 394.7 872.5 396.4 876.7 397.4 C880.9 398.3 884.2 398.2 888.1 398.5 C892.0 398.8 898.0 399.1 900.0 399.2 M873.5 413.5 C875.9 413.8 884.5 412.9 887.7 415.3 C891.0 417.7 892.4 423.3 893.0 427.7 C893.6 432.1 893.3 438.6 891.2 441.9 C889.1 445.1 884.1 446.0 880.6 447.2 C877.1 448.4 873.5 449.8 870.0 448.9 C866.5 448.0 861.6 445.1 859.4 441.9 C857.2 438.7 856.0 432.2 856.6 429.5 C857.2 426.8 860.4 425.0 862.9 425.9 C865.4 426.8 870.0 430.4 871.8 434.8 C873.6 439.2 872.9 447.8 873.5 452.5 C874.1 457.2 875.9 459.0 875.3 463.1 C874.7 467.2 872.6 473.7 870.0 477.2 C867.4 480.7 864.1 483.1 859.4 484.3 C854.7 485.5 846.4 483.7 841.7 484.3 C837.0 484.9 833.5 486.1 831.1 487.9 C828.7 489.7 829.0 493.1 827.5 494.9 C826.0 496.7 823.1 497.9 822.2 498.5 M1021.0 328.6 C1024.8 329.2 1037.2 330.1 1044.0 332.5 C1050.8 334.9 1057.6 338.4 1061.9 342.7 C1066.2 346.9 1068.5 353.3 1069.6 358.0 C1070.7 362.7 1069.6 368.2 1068.3 370.8 C1067.0 373.4 1063.4 373.6 1061.9 373.4 C1060.4 373.2 1059.0 370.4 1059.4 369.5 C1059.8 368.6 1062.0 367.6 1064.5 368.2 C1067.0 368.8 1072.4 370.8 1074.7 373.4 C1077.0 376.0 1078.3 379.8 1078.5 383.6 C1078.7 387.4 1077.5 393.4 1076.0 396.4 C1074.5 399.4 1070.2 399.8 1069.6 401.5 C1068.9 403.2 1071.9 404.5 1072.1 406.6 C1072.3 408.7 1072.0 411.6 1070.9 414.2 C1069.9 416.8 1067.3 418.9 1065.8 421.9 C1064.3 424.9 1062.8 428.7 1061.9 432.1 C1061.0 435.5 1061.4 439.4 1060.6 442.4 C1059.8 445.4 1058.1 447.9 1056.8 450.0 C1055.5 452.1 1053.8 453.4 1053.0 455.1 C1052.2 456.8 1052.3 459.4 1052.2 460.3 M1064.5 398.9 C1063.7 399.8 1061.1 402.1 1059.4 404.0 C1057.7 405.9 1056.0 409.3 1054.3 410.4 C1052.6 411.5 1050.0 410.4 1049.1 410.4 M1054.3 434.7 C1055.6 436.0 1058.1 440.3 1061.9 442.4 C1065.7 444.5 1072.6 447.9 1077.3 447.5 C1082.0 447.1 1087.2 442.4 1090.0 439.8 C1092.8 437.2 1092.2 433.0 1093.9 432.1 C1095.6 431.2 1097.5 434.7 1100.3 434.7 C1103.1 434.7 1108.0 434.7 1110.5 432.1 C1113.0 429.6 1115.6 422.4 1115.6 419.4 C1115.6 416.4 1111.3 415.1 1110.5 414.2 M1072.0 404.0 C1074.2 403.6 1080.6 403.6 1084.9 401.5 C1089.2 399.4 1094.9 394.6 1097.7 391.2 C1100.5 387.8 1101.5 383.1 1101.5 381.0 C1101.5 378.9 1099.0 378.1 1097.7 378.5 C1096.4 378.9 1093.9 381.9 1093.9 383.6 C1093.9 385.3 1095.4 388.1 1097.7 388.7 C1100.0 389.3 1104.5 389.1 1107.9 387.4 C1111.3 385.7 1115.8 382.6 1118.1 378.5 C1120.4 374.4 1121.8 367.8 1122.0 363.1 C1122.2 358.4 1120.9 353.6 1119.4 350.4 C1117.9 347.2 1115.3 345.3 1113.0 344.0 C1110.7 342.7 1107.3 342.3 1105.4 342.7 C1103.5 343.1 1101.3 346.1 1101.5 346.5 C1101.7 346.9 1104.2 346.3 1106.6 345.2 C1108.9 344.1 1113.7 343.1 1115.6 340.1 C1117.5 337.1 1118.1 331.6 1118.1 327.3 C1118.1 323.1 1117.7 318.4 1115.6 314.6 C1113.5 310.8 1109.9 307.1 1105.4 304.3 C1100.9 301.5 1091.6 299.1 1088.8 298.0 M1110.5 414.2 C1111.3 415.1 1112.6 418.1 1115.6 419.4 C1118.6 420.7 1124.2 422.3 1128.4 421.9 C1132.7 421.5 1137.7 419.8 1141.1 416.8 C1144.5 413.8 1147.5 407.8 1148.8 404.0 C1150.1 400.2 1149.6 396.1 1148.8 393.8 C1148.0 391.5 1145.2 389.6 1143.7 390.0 C1142.2 390.4 1139.1 393.2 1139.9 396.4 C1140.8 399.6 1144.3 407.0 1148.8 409.1 C1153.3 411.2 1161.2 410.4 1166.7 409.1 C1172.2 407.8 1177.7 404.9 1182.0 401.5 C1186.3 398.1 1190.2 394.2 1192.3 388.7 C1194.4 383.1 1194.8 375.0 1194.8 368.2 C1194.8 361.4 1194.4 353.8 1192.3 347.8 C1190.2 341.9 1186.3 337.6 1182.0 332.5 C1177.7 327.4 1171.8 321.4 1166.7 317.1 C1161.6 312.8 1156.5 309.4 1151.4 306.9 C1146.3 304.3 1138.6 302.6 1136.0 301.8 M1170.5 372.1 C1172.4 373.2 1178.4 375.7 1182.0 378.5 C1185.6 381.3 1189.3 385.7 1192.3 388.7 C1195.3 391.7 1196.6 394.7 1200.0 396.4 C1203.4 398.1 1209.3 396.8 1212.7 398.9 C1216.1 401.0 1217.0 407.0 1220.4 409.1 C1223.8 411.2 1231.9 411.1 1233.2 411.7 C1234.5 412.3 1227.7 410.9 1228.1 413.0 C1228.5 415.1 1233.6 419.6 1235.7 424.5 C1237.8 429.4 1240.4 437.9 1240.8 442.4 C1241.2 446.9 1240.0 448.8 1238.3 451.3 C1236.6 453.9 1232.7 456.4 1230.6 457.7 C1228.5 459.0 1225.9 457.7 1225.5 459.0 C1225.1 460.3 1226.8 462.8 1228.1 465.4 C1229.4 467.9 1232.3 472.8 1233.2 474.3" stroke="#e3e26a" stroke-width="1.3"/><path d="M640.5 191.2 C642.4 192.4 645.8 194.8 652.0 198.5 C658.2 202.2 669.4 208.8 677.5 213.3 C685.6 217.8 693.6 221.7 700.6 225.3 C707.6 228.9 712.1 231.3 719.4 235.0 C726.8 238.7 737.3 243.9 744.5 247.5 C751.8 251.1 756.0 253.4 763.1 256.7 C770.2 260.0 780.0 264.1 787.1 267.2 C794.3 270.3 799.7 272.6 806.1 275.2 C812.5 277.8 818.2 280.1 825.4 282.7 C832.6 285.3 840.4 288.6 849.3 290.7 C858.2 292.8 870.7 293.6 878.9 295.2 C887.1 296.7 895.3 299.2 898.6 300.0 M640.5 191.2 C642.4 192.4 644.8 194.0 652.0 198.4 C659.2 202.7 675.3 212.4 683.7 217.2 C692.1 222.1 694.2 223.4 702.3 227.5 C710.4 231.6 723.7 237.9 732.3 241.8 C741.0 245.6 747.4 247.7 754.4 250.3 C761.4 252.9 767.8 255.0 774.4 257.4 C781.0 259.8 787.1 261.9 794.1 264.5 C801.1 267.1 807.8 269.6 816.4 273.1 C825.0 276.7 837.5 282.6 845.8 286.0 C854.1 289.5 858.6 290.9 866.3 293.9 C874.1 296.9 883.6 301.1 892.5 303.9 C901.3 306.6 911.1 309.0 919.4 310.5 C927.8 311.9 938.8 312.0 942.6 312.3 M640.5 191.2 C642.4 192.4 646.1 194.9 652.0 198.6 C657.9 202.3 668.3 208.8 676.0 213.2 C683.7 217.5 690.3 220.9 698.4 224.6 C706.5 228.3 716.2 232.1 724.6 235.1 C733.0 238.1 741.2 239.8 748.9 242.4 C756.7 245.0 762.6 247.4 771.1 250.7 C779.7 254.1 790.8 258.5 800.2 262.5 C809.7 266.5 819.8 271.2 828.0 274.9 C836.2 278.6 841.5 281.7 849.4 284.7 C857.4 287.6 871.1 291.3 875.5 292.7 M640.5 191.2 C642.4 192.4 646.8 195.4 652.0 198.6 C657.2 201.8 664.4 206.4 671.7 210.4 C678.9 214.3 686.8 218.2 695.5 222.1 C704.2 225.9 716.0 230.4 724.1 233.3 C732.2 236.2 736.7 236.5 744.2 239.2 C751.7 241.9 761.8 246.7 769.1 249.7 C776.3 252.7 780.0 254.0 787.6 257.3 C795.3 260.5 805.6 265.3 815.0 269.1 C824.3 273.0 834.6 277.5 843.7 280.5 C852.8 283.6 860.3 285.1 869.7 287.6 C879.1 290.0 891.2 293.4 900.0 295.4 C908.7 297.3 918.6 298.7 922.4 299.4 M640.5 191.2 C642.4 192.4 644.9 194.5 652.0 198.7 C659.1 202.9 673.9 211.8 683.2 216.5 C692.5 221.2 699.2 223.8 707.9 226.7 C716.5 229.6 727.5 231.7 735.2 233.7 C742.9 235.7 746.2 236.1 754.0 238.8 C761.8 241.5 772.7 246.0 781.8 249.9 C791.0 253.7 799.1 257.5 808.9 261.9 C818.7 266.2 830.6 272.1 840.8 276.0 C851.0 279.9 861.7 282.9 870.3 285.3 C878.9 287.6 884.7 289.0 892.3 290.3 C899.8 291.7 911.8 292.6 915.7 293.1 M640.5 191.2 C642.4 192.4 646.9 195.4 652.0 198.5 C657.1 201.6 662.9 205.6 670.8 209.7 C678.8 213.8 691.5 219.7 699.6 223.0 C707.7 226.2 712.5 227.7 719.4 229.4 C726.3 231.1 733.4 231.3 740.9 233.1 C748.3 234.8 755.4 237.2 764.3 240.1 C773.3 243.0 786.3 247.4 794.5 250.2 C802.8 253.1 806.4 254.8 813.7 257.4 C820.9 260.0 829.6 263.0 837.9 265.9 C846.3 268.7 854.3 271.2 863.6 274.6 C873.0 277.9 888.9 284.1 894.0 286.1 M640.5 191.2 C642.4 192.4 645.0 194.3 652.0 198.4 C659.0 202.5 672.1 210.6 682.4 215.6 C692.7 220.6 705.2 225.5 713.8 228.3 C722.4 231.1 727.1 231.0 733.9 232.3 C740.7 233.5 747.4 233.9 754.4 235.5 C761.3 237.1 768.5 239.6 775.6 241.8 C782.7 244.0 789.2 245.9 796.9 248.5 C804.6 251.1 813.2 254.1 821.7 257.4 C830.2 260.6 839.9 264.5 847.9 267.9 C855.9 271.3 863.0 274.7 869.6 277.8 C876.2 281.0 884.6 285.3 887.7 286.8 M640.5 191.2 C642.4 192.5 645.9 195.0 652.0 198.7 C658.1 202.5 668.6 209.6 677.2 213.9 C685.9 218.2 694.8 222.3 703.9 224.5 C712.9 226.8 723.6 227.1 731.3 227.5 C739.0 228.0 741.9 225.7 750.1 227.2 C758.3 228.7 770.8 232.9 780.7 236.5 C790.6 240.1 799.7 244.2 809.6 248.8 C819.5 253.3 829.9 259.0 839.8 263.8 C849.7 268.6 860.2 273.9 869.0 277.5 C877.8 281.1 884.7 283.9 892.5 285.4 C900.4 286.8 912.2 286.0 916.1 286.1 M640.5 191.2 C641.3 192.6 643.4 196.7 645.0 199.4 C646.7 202.2 648.5 204.9 650.4 207.5 C652.3 210.1 654.5 212.5 656.3 214.9 C658.1 217.3 659.6 219.8 661.2 222.1 C662.7 224.4 664.0 226.6 665.5 228.9 C667.1 231.2 668.9 233.1 670.5 236.0 C672.1 238.9 673.2 242.5 675.0 246.0 C676.8 249.5 680.0 255.2 681.0 257.0 M640.5 191.2 C641.2 192.7 643.0 197.1 644.5 199.9 C646.1 202.8 647.8 205.6 649.7 208.2 C651.5 210.8 653.8 213.2 655.6 215.6 C657.4 218.0 658.8 220.4 660.4 222.6 C662.0 224.9 663.4 226.9 665.0 229.2 C666.7 231.4 668.8 233.2 670.5 236.0 C672.2 238.8 673.2 242.5 675.0 246.0 C676.8 249.5 680.0 255.2 681.0 257.0 M640.5 191.2 C641.1 192.7 642.6 197.5 644.0 200.4 C645.5 203.4 647.1 206.3 648.9 208.9 C650.7 211.5 653.0 213.8 654.8 216.2 C656.6 218.6 658.0 221.0 659.6 223.2 C661.2 225.4 662.7 227.3 664.5 229.5 C666.4 231.6 668.8 233.2 670.5 236.0 C672.2 238.8 673.2 242.5 675.0 246.0 C676.8 249.5 680.0 255.2 681.0 257.0 M640.5 191.2 C642.4 192.5 646.7 195.3 652.0 198.7 C657.3 202.2 665.1 207.5 672.3 212.0 C679.4 216.6 688.1 221.9 695.0 226.1 C701.9 230.4 707.6 233.8 713.8 237.6 C719.9 241.4 725.4 244.9 731.8 248.7 C738.1 252.5 745.3 257.2 751.9 260.7 C758.5 264.1 764.2 266.4 771.3 269.5 C778.4 272.6 787.5 276.5 794.4 279.4 C801.3 282.3 804.7 283.6 812.8 286.9 C820.9 290.2 833.5 296.0 843.0 299.0 C852.5 302.1 861.8 303.4 869.6 305.1 C877.4 306.7 882.7 307.7 889.7 309.1 C896.6 310.5 903.8 312.1 911.2 313.6 C918.6 315.1 930.3 317.2 934.1 318.0 M640.5 191.2 C642.4 192.5 646.7 195.4 652.0 199.1 C657.3 202.8 665.8 208.9 672.3 213.2 C678.7 217.6 682.3 220.0 690.6 225.1 C698.9 230.2 712.4 238.1 721.9 243.8 C731.3 249.5 739.7 254.8 747.3 259.1 C754.9 263.4 759.7 265.8 767.3 269.8 C775.0 273.7 785.6 279.2 792.9 282.9 C800.3 286.6 804.0 288.4 811.3 292.0 C818.6 295.5 827.2 300.9 836.7 304.2 C846.2 307.6 863.1 310.8 868.4 312.2 M640.5 191.2 C642.4 192.5 646.6 195.0 652.0 198.7 C657.4 202.5 664.7 207.6 673.1 213.6 C681.5 219.7 692.3 227.5 702.5 234.8 C712.7 242.2 724.0 251.2 734.3 257.7 C744.6 264.3 754.3 269.7 764.2 274.3 C774.1 279.0 783.7 282.0 793.5 285.5 C803.3 289.0 813.3 291.8 823.0 295.3 C832.6 298.9 843.1 303.7 851.3 306.7 C859.6 309.8 864.7 310.8 872.5 313.9 C880.2 316.9 889.7 321.9 897.7 325.1 C905.8 328.3 913.8 331.4 920.7 333.2 C927.6 335.0 933.0 336.0 939.1 336.1 C945.2 336.3 954.4 334.5 957.5 334.1 M640.5 191.2 C642.4 192.5 646.6 195.1 652.0 199.0 C657.4 202.9 666.2 209.4 673.2 214.5 C680.2 219.6 687.0 224.6 693.9 229.6 C700.9 234.7 706.9 238.9 714.8 244.7 C722.7 250.4 732.0 257.9 741.5 264.2 C751.1 270.4 762.1 276.9 772.1 282.1 C782.2 287.3 792.8 291.7 801.9 295.5 C811.0 299.3 818.0 301.9 826.6 305.1 C835.3 308.2 844.4 311.7 853.8 314.4 C863.1 317.2 874.9 319.2 882.9 321.5 C891.0 323.7 894.4 325.5 902.1 327.9 C909.9 330.4 919.7 334.1 929.4 336.3 C939.0 338.5 955.0 340.3 960.1 341.1 M640.5 191.2 C642.4 192.5 644.9 193.8 652.0 199.2 C659.1 204.6 673.4 215.9 683.3 223.6 C693.2 231.2 703.3 238.9 711.4 244.9 C719.5 250.9 725.1 255.0 731.8 259.6 C738.5 264.2 744.9 268.8 751.6 272.6 C758.2 276.5 763.2 278.6 771.7 282.6 C780.1 286.5 792.4 291.8 802.3 296.2 C812.3 300.6 823.4 305.1 831.6 308.7 C839.9 312.4 843.4 314.8 851.7 318.0 C860.0 321.2 871.0 324.8 881.3 328.0 C891.5 331.1 903.2 335.2 913.0 337.1 C922.8 339.1 931.8 339.7 940.2 339.7 C948.5 339.7 959.3 337.5 963.1 337.0 M640.5 191.2 C642.4 192.5 645.0 193.8 652.0 199.2 C659.0 204.6 672.2 215.7 682.2 223.7 C692.2 231.7 703.4 240.8 711.8 247.2 C720.2 253.6 725.6 257.6 732.7 262.2 C739.8 266.7 747.0 271.1 754.3 274.7 C761.5 278.3 769.1 280.7 776.4 283.6 C783.6 286.4 789.8 288.8 797.7 291.9 C805.6 294.9 816.0 298.3 823.9 301.9 C831.9 305.4 838.0 309.3 845.6 313.0 C853.1 316.7 862.1 320.7 869.4 324.0 C876.7 327.4 880.8 330.3 889.3 333.1 C897.7 335.8 911.1 339.6 920.0 340.4 C929.0 341.3 939.1 338.4 943.0 338.0 M640.5 191.2 C642.4 192.6 647.1 195.7 652.0 199.4 C656.9 203.1 662.2 207.5 670.1 213.6 C677.9 219.6 691.0 229.4 699.2 235.6 C707.5 241.8 712.1 245.2 719.7 250.7 C727.2 256.1 735.5 262.9 744.3 268.5 C753.1 274.2 763.4 279.9 772.4 284.4 C781.4 288.9 790.2 292.2 798.2 295.4 C806.3 298.5 812.8 300.7 820.8 303.3 C828.8 306.0 837.5 309.3 846.0 311.3 C854.6 313.3 862.7 313.5 871.8 315.5 C881.0 317.5 892.7 321.0 900.8 323.3 C908.9 325.6 917.0 328.3 920.3 329.3 M640.5 191.2 C642.4 192.6 645.7 194.3 652.0 199.5 C658.3 204.7 670.0 215.1 678.6 222.5 C687.2 229.9 695.3 237.1 703.7 244.0 C712.0 250.8 720.0 257.3 728.8 263.5 C737.6 269.6 747.8 276.1 756.5 280.7 C765.2 285.3 772.6 287.6 780.9 291.1 C789.2 294.5 798.0 297.7 806.3 301.2 C814.7 304.6 821.7 307.4 831.0 311.8 C840.3 316.2 852.4 322.8 862.2 327.5 C872.0 332.3 880.3 337.0 890.0 340.2 C899.7 343.5 915.2 345.8 920.3 346.9 M640.5 191.2 C642.4 192.6 646.9 195.6 652.0 199.7 C657.1 203.9 663.3 209.5 671.0 216.0 C678.8 222.5 689.0 231.2 698.4 238.7 C707.8 246.1 717.4 253.4 727.4 260.7 C737.3 267.9 749.5 276.8 757.9 282.1 C766.4 287.4 770.1 288.7 778.1 292.6 C786.1 296.4 796.9 301.2 806.1 305.2 C815.3 309.1 825.5 313.2 833.4 316.2 C841.2 319.1 845.0 320.8 853.4 323.0 C861.8 325.2 878.7 328.3 883.7 329.4 M640.5 191.2 C642.4 192.6 646.6 195.3 652.0 199.7 C657.4 204.2 665.5 211.6 672.7 217.9 C679.9 224.3 686.8 230.7 695.2 237.8 C703.6 244.9 715.6 254.6 723.3 260.7 C731.0 266.8 734.2 269.7 741.6 274.5 C748.9 279.4 759.0 285.4 767.3 289.8 C775.7 294.1 784.4 297.7 791.5 300.6 C798.6 303.5 802.9 304.6 809.8 307.1 C816.6 309.5 824.2 312.4 832.4 315.4 C840.6 318.4 850.5 321.9 859.1 324.9 C867.8 327.9 880.1 332.1 884.3 333.5 M640.5 191.2 C642.4 192.7 645.0 193.9 652.0 200.0 C659.0 206.2 672.7 219.4 682.8 228.1 C692.8 236.8 703.7 245.7 712.2 252.5 C720.7 259.2 726.9 263.7 733.8 268.7 C740.8 273.8 745.4 277.7 753.9 282.7 C762.4 287.6 775.3 294.1 784.8 298.6 C794.3 303.1 801.8 305.8 810.8 309.6 C819.8 313.4 830.8 318.4 838.6 321.5 C846.4 324.5 851.5 326.1 857.9 327.9 C864.2 329.8 868.9 330.8 876.7 332.6 C884.4 334.5 895.7 337.5 904.3 339.0 C912.9 340.5 921.1 341.1 928.2 341.6 C935.4 342.2 944.1 342.3 947.3 342.4 M640.5 191.2 C642.4 192.7 646.5 195.5 652.0 200.4 C657.5 205.3 666.8 214.2 673.8 220.5 C680.7 226.7 686.0 231.7 693.6 237.8 C701.1 243.8 711.2 251.0 718.9 256.9 C726.7 262.7 733.5 267.6 740.3 272.8 C747.1 278.0 753.2 283.3 759.8 287.8 C766.4 292.4 773.6 296.5 780.1 300.3 C786.6 304.1 792.2 307.1 798.8 310.5 C805.4 313.8 812.4 317.3 819.6 320.5 C826.8 323.6 834.5 327.4 842.0 329.2 C849.4 331.1 855.8 331.3 864.2 331.8 C872.7 332.2 884.4 331.9 892.9 332.2 C901.3 332.5 911.3 333.4 914.9 333.6 M640.5 191.2 C642.4 192.7 646.0 194.8 652.0 200.1 C658.0 205.5 667.4 214.7 676.6 223.3 C685.9 231.8 699.3 243.8 707.7 251.3 C716.2 258.8 719.1 261.5 727.2 268.3 C735.4 275.2 747.8 286.2 756.7 292.5 C765.6 298.8 772.6 302.2 780.7 306.3 C788.9 310.3 796.6 313.5 805.7 316.9 C814.8 320.3 826.5 324.2 835.3 326.7 C844.2 329.2 854.9 331.1 858.9 331.9 M640.5 191.2 C642.4 192.7 646.9 195.8 652.0 200.4 C657.1 205.0 663.1 211.3 671.0 218.8 C678.9 226.3 691.0 237.9 699.4 245.4 C707.7 252.8 714.0 257.7 720.9 263.4 C727.9 269.1 734.6 274.4 741.2 279.4 C747.8 284.5 752.2 288.6 760.4 293.7 C768.6 298.8 780.2 305.2 790.2 310.0 C800.2 314.8 810.8 318.6 820.4 322.4 C830.0 326.1 839.5 330.0 847.8 332.3 C856.0 334.7 862.5 334.9 869.7 336.2 C876.9 337.5 883.9 339.0 891.1 340.4 C898.3 341.8 909.5 343.9 913.2 344.6 M640.5 191.2 C642.4 192.7 646.3 194.9 652.0 200.2 C657.7 205.4 668.2 216.0 675.0 222.8 C681.8 229.7 686.1 234.6 693.0 241.3 C699.9 248.0 708.4 255.8 716.3 263.0 C724.3 270.2 732.7 278.1 741.0 284.4 C749.3 290.7 758.4 296.4 766.0 300.6 C773.7 304.9 779.2 306.9 786.8 309.7 C794.5 312.4 804.7 315.0 811.9 317.1 C819.1 319.2 823.4 320.2 830.0 322.2 C836.6 324.2 844.9 327.1 851.7 329.3 C858.5 331.5 863.8 332.7 870.9 335.6 C878.1 338.6 887.5 343.7 894.5 347.0 C901.6 350.3 907.0 353.0 913.1 355.2 C919.3 357.4 928.4 359.4 931.4 360.3 M640.5 191.2 C642.4 192.8 644.8 193.4 652.0 200.5 C659.2 207.6 675.1 225.0 683.8 233.8 C692.4 242.6 695.8 245.9 703.9 253.3 C711.9 260.8 722.8 270.9 732.0 278.7 C741.2 286.6 751.4 295.0 759.0 300.3 C766.6 305.6 769.6 306.7 777.6 310.5 C785.7 314.4 797.3 319.5 807.3 323.6 C817.4 327.8 828.3 332.1 837.8 335.4 C847.4 338.8 855.4 340.8 864.6 343.8 C873.8 346.8 883.3 350.6 892.9 353.6 C902.5 356.6 914.0 359.8 922.2 361.6 C930.5 363.3 938.9 363.7 942.2 364.1 M640.5 191.2 C642.4 192.8 646.8 195.8 652.0 200.9 C657.2 205.9 664.7 214.2 671.9 221.6 C679.0 229.0 687.8 238.4 694.9 245.3 C702.0 252.1 706.2 255.4 714.4 262.5 C722.6 269.7 734.8 280.6 744.1 288.1 C753.3 295.6 761.1 301.8 769.9 307.6 C778.7 313.3 787.8 318.3 796.7 322.7 C805.6 327.1 814.4 330.7 823.5 334.1 C832.5 337.5 842.3 340.9 851.0 342.9 C859.7 344.9 868.7 345.0 875.8 346.0 C883.0 347.0 886.0 347.6 893.9 349.0 C901.8 350.4 913.4 352.4 923.1 354.5 C932.7 356.6 946.8 360.5 951.5 361.6 M640.5 191.2 C642.4 192.8 645.4 194.1 652.0 200.7 C658.6 207.2 670.4 220.4 680.4 230.5 C690.4 240.7 702.6 252.7 712.0 261.7 C721.4 270.7 728.9 277.7 736.9 284.8 C745.0 291.9 752.3 298.9 760.3 304.3 C768.3 309.8 776.3 313.7 785.0 317.5 C793.7 321.4 803.2 324.3 812.6 327.2 C822.0 330.1 832.1 332.9 841.3 334.9 C850.5 337.0 863.5 338.6 867.9 339.4 M640.5 191.2 C642.4 192.9 646.5 195.5 652.0 201.1 C657.5 206.7 665.6 216.2 673.8 225.0 C682.0 233.8 692.0 244.7 701.2 253.6 C710.4 262.6 719.7 270.6 728.9 278.6 C738.1 286.7 748.1 295.7 756.3 301.9 C764.6 308.2 770.5 311.6 778.4 316.0 C786.3 320.5 795.3 324.9 803.6 328.7 C811.9 332.5 820.0 335.9 828.1 338.9 C836.3 341.9 845.3 344.9 852.7 346.7 C860.0 348.6 864.0 348.6 872.3 350.1 C880.7 351.6 897.7 354.9 902.8 355.9 M640.5 191.2 C642.4 192.9 646.6 195.7 652.0 201.3 C657.4 206.9 665.1 216.2 672.9 224.7 C680.8 233.2 691.4 244.7 699.1 252.3 C706.8 259.9 711.5 263.8 719.1 270.5 C726.6 277.1 735.0 284.6 744.4 292.1 C753.9 299.5 767.2 309.4 775.8 315.1 C784.3 320.8 787.4 322.3 795.6 326.3 C803.8 330.3 816.0 335.5 825.1 339.0 C834.2 342.4 841.0 345.2 850.2 347.1 C859.5 349.0 870.9 349.2 880.6 350.3 C890.3 351.3 903.8 352.8 908.5 353.3 M640.5 191.2 C642.4 192.9 646.3 195.3 652.0 201.3 C657.7 207.2 665.7 217.3 674.4 227.0 C683.1 236.6 696.2 251.1 704.2 259.3 C712.2 267.6 714.5 269.6 722.2 276.6 C730.0 283.5 741.0 293.9 750.7 301.1 C760.4 308.3 772.2 315.2 780.5 319.9 C788.7 324.6 791.7 325.6 800.2 329.1 C808.6 332.6 821.3 337.5 831.1 340.9 C840.9 344.3 849.3 346.8 859.1 349.6 C868.9 352.3 880.9 355.4 889.7 357.5 C898.5 359.6 908.1 361.4 911.8 362.2 M640.5 191.2 C642.4 192.9 644.9 193.4 652.0 201.1 C659.1 208.8 674.3 227.5 683.1 237.4 C691.9 247.4 697.4 253.2 704.6 260.8 C711.8 268.3 718.5 275.3 726.3 282.8 C734.1 290.2 743.8 299.5 751.5 305.4 C759.1 311.3 764.8 314.5 772.1 318.4 C779.4 322.2 786.2 325.4 795.3 328.6 C804.4 331.7 816.4 334.3 826.7 337.0 C837.0 339.8 852.1 343.7 857.1 345.0 M640.5 191.2 C642.4 193.0 646.4 195.5 652.0 201.8 C657.6 208.1 667.2 220.6 674.0 229.0 C680.8 237.4 684.4 243.4 692.7 252.1 C701.0 260.7 715.2 273.6 723.7 281.0 C732.1 288.4 736.1 291.0 743.4 296.6 C750.8 302.2 760.2 309.2 768.1 314.5 C776.0 319.9 783.4 324.6 790.9 328.8 C798.4 332.9 804.6 335.2 813.0 339.7 C821.5 344.1 831.4 351.2 841.4 355.6 C851.4 360.0 864.2 363.8 873.1 365.9 C881.9 368.1 886.6 368.7 894.7 368.4 C902.8 368.2 913.6 365.8 921.9 364.4 C930.1 363.0 940.4 360.7 944.1 360.0 M640.5 191.2 C642.4 193.0 644.8 193.5 652.0 201.8 C659.2 210.2 674.6 230.5 684.0 241.3 C693.3 252.1 700.9 259.3 708.3 266.7 C715.6 274.0 721.4 279.2 728.2 285.5 C735.0 291.8 742.2 298.7 748.9 304.4 C755.6 310.2 761.2 314.9 768.2 320.0 C775.2 325.0 783.9 330.9 791.0 334.8 C798.0 338.7 803.5 340.5 810.2 343.5 C817.0 346.5 824.4 350.2 831.6 352.7 C838.7 355.3 845.3 357.2 853.2 358.7 C861.1 360.2 869.8 360.7 879.2 361.6 C888.6 362.6 899.8 363.4 909.6 364.5 C919.4 365.6 929.4 366.8 938.1 368.1 C946.8 369.4 957.9 371.7 961.9 372.5 M640.5 191.2 C642.4 193.0 645.6 194.4 652.0 201.9 C658.4 209.3 669.3 224.6 678.8 236.1 C688.3 247.6 700.4 261.6 708.9 270.9 C717.4 280.2 722.8 284.9 729.9 291.7 C737.1 298.5 744.5 305.8 751.7 311.7 C758.9 317.6 765.7 322.5 773.2 327.3 C780.7 332.2 788.8 336.9 796.8 340.9 C804.8 344.9 811.8 347.5 821.0 351.3 C830.3 355.2 842.2 360.5 852.4 363.9 C862.6 367.4 877.3 370.9 882.3 372.3 M640.5 191.2 C642.4 193.0 646.2 195.4 652.0 202.1 C657.8 208.8 666.4 220.7 675.5 231.5 C684.6 242.3 696.4 255.9 706.5 266.6 C716.5 277.4 726.1 286.3 736.0 295.8 C745.9 305.4 755.7 316.0 766.0 324.0 C776.3 332.0 788.8 339.0 797.6 343.9 C806.5 348.7 812.2 350.3 819.1 353.0 C825.9 355.6 832.0 358.2 838.6 359.6 C845.2 361.0 851.2 360.8 858.8 361.3 C866.3 361.8 875.3 361.6 884.1 362.4 C892.9 363.2 901.8 364.0 911.6 366.2 C921.4 368.3 932.9 372.4 942.8 375.4 C952.7 378.4 966.2 382.7 970.9 384.1 M640.5 191.2 C642.4 193.0 646.8 195.8 652.0 201.8 C657.2 207.8 664.9 218.1 671.8 227.2 C678.7 236.2 685.2 246.3 693.3 256.2 C701.4 266.1 711.1 277.0 720.2 286.7 C729.3 296.5 740.1 307.4 748.0 314.7 C755.9 321.9 761.1 325.9 767.6 330.3 C774.0 334.8 779.2 338.0 786.6 341.4 C793.9 344.8 803.3 347.5 811.9 350.5 C820.5 353.5 829.8 356.8 838.1 359.3 C846.3 361.9 854.1 363.3 861.5 365.7 C868.9 368.1 879.1 372.4 882.6 373.7 M640.5 191.2 C642.4 193.0 646.5 195.6 652.0 202.0 C657.5 208.5 664.6 218.7 673.5 230.0 C682.3 241.3 695.0 258.1 704.9 269.8 C714.8 281.5 724.4 291.5 732.8 300.3 C741.1 309.1 748.3 316.8 755.1 322.8 C761.8 328.7 766.2 331.7 773.4 336.1 C780.6 340.6 789.6 345.6 798.4 349.4 C807.1 353.1 817.2 355.9 825.8 358.5 C834.4 361.2 842.1 363.1 849.7 365.0 C857.3 366.9 863.1 367.5 871.3 370.0 C879.4 372.4 888.9 376.6 898.6 379.7 C908.3 382.9 924.4 387.4 929.6 388.9 M640.5 191.2 C642.4 193.1 646.6 195.7 652.0 202.3 C657.4 208.9 664.1 219.2 672.9 230.9 C681.6 242.7 695.5 261.8 704.5 272.7 C713.4 283.7 718.2 288.2 726.8 296.6 C735.5 305.0 747.8 316.5 756.3 323.1 C764.7 329.8 770.5 332.5 777.5 336.6 C784.6 340.7 790.3 343.8 798.6 347.7 C806.9 351.7 818.8 356.3 827.3 360.1 C835.7 364.0 840.5 366.9 849.4 370.8 C858.3 374.7 875.5 381.5 880.7 383.6 M640.5 191.2 C642.4 193.1 644.8 193.3 652.0 202.3 C659.2 211.4 675.0 234.4 683.6 245.6 C692.2 256.9 697.2 262.3 703.6 269.8 C710.1 277.3 716.1 284.0 722.4 290.7 C728.6 297.4 734.1 303.1 741.2 309.9 C748.3 316.6 755.7 324.8 764.7 331.2 C773.7 337.6 785.1 343.9 795.3 348.4 C805.4 352.9 815.9 355.4 825.6 358.1 C835.4 360.8 843.9 362.3 853.9 364.6 C863.9 366.9 875.4 369.1 885.9 371.8 C896.4 374.5 908.0 378.4 916.9 380.8 C925.9 383.1 932.3 384.8 939.5 385.8 C946.7 386.9 956.7 386.9 960.1 387.1 M895.0 288.0 C900.8 288.5 917.5 290.2 930.0 291.0 C942.5 291.8 955.6 291.8 970.0 293.0 C984.4 294.2 1008.8 297.2 1016.5 298.0 M900.0 330.0 C906.7 329.3 929.0 324.0 940.0 325.7 C951.0 327.4 957.2 335.6 966.0 340.0 C974.8 344.4 983.0 348.4 992.8 352.1 C1002.6 355.8 1014.5 358.8 1025.0 362.0 C1035.5 365.2 1050.9 369.7 1056.1 371.2 M920.0 340.0 C927.7 342.4 955.8 349.5 966.4 354.7 C977.0 359.9 980.6 368.4 983.5 371.2 M940.0 335.0 C945.5 336.1 961.6 340.9 973.0 341.5 C984.4 342.1 1002.7 339.3 1008.6 338.9" stroke="#686868" stroke-width="1.3"/><path d="M640.0 191.3 C641.5 192.4 645.9 195.8 649.2 197.9 C652.5 200.0 656.0 201.8 659.7 203.8 C663.4 205.8 667.9 207.7 671.6 209.7 C675.4 211.7 678.9 213.8 682.2 215.7 C685.5 217.6 688.5 219.1 691.4 221.0 C694.2 222.9 696.4 224.9 699.3 226.9 C702.1 228.9 705.0 230.8 708.5 232.8 C712.0 234.8 716.6 236.7 720.4 238.8 C724.1 240.9 727.5 243.3 731.0 245.4 C734.5 247.5 738.0 249.2 741.5 251.3 C745.0 253.4 748.6 255.6 752.1 257.9 C755.6 260.2 758.9 262.8 762.6 265.1 C766.3 267.4 770.8 269.7 774.5 271.7 C778.2 273.7 781.5 275.1 785.1 277.0 C788.7 278.9 792.5 281.4 796.0 283.0 C799.5 284.6 802.0 285.5 806.0 286.8 C810.0 288.1 813.5 288.6 820.0 290.9 C826.5 293.2 836.5 298.3 844.7 300.8 C852.9 303.3 861.1 304.2 869.4 305.7 C877.6 307.2 886.0 308.4 894.2 309.8 C902.5 311.2 909.8 312.7 918.9 314.0 C928.0 315.3 943.8 317.0 948.8 317.6" stroke="#8b008b" stroke-width="4.6" stroke-linecap="butt"/><path d="M948.5 317.6 C950.1 317.4 954.9 316.6 958.0 316.2 C961.1 315.8 964.5 315.0 967.0 314.9 C969.5 314.8 970.8 315.9 972.7 315.8 C974.6 315.7 976.4 314.7 978.5 314.4 C980.6 314.1 983.5 313.5 985.4 314.0 C987.3 314.5 988.3 316.6 990.0 317.2 C991.7 317.8 993.5 317.9 995.8 317.9 C998.1 317.8 1001.4 317.4 1003.9 316.9 C1006.4 316.4 1009.3 315.7 1010.8 314.8 C1012.3 313.9 1012.7 312.0 1013.1 311.4 M987.6 314 L988.2 304.6" stroke="#ee66ee" stroke-width="5.2" stroke-linecap="butt"/><path d="M640.0 191.3 C641.5 193.1 645.9 198.3 649.2 201.8 C652.5 205.3 656.9 209.3 659.7 212.4 C662.6 215.5 664.5 217.5 666.3 220.3 C668.1 223.2 669.0 225.8 670.3 229.5 C671.6 233.2 673.0 238.7 674.3 242.7 C675.6 246.7 676.5 249.6 678.2 253.3 C680.0 257.0 682.4 260.9 684.8 265.1 C687.2 269.3 689.8 274.1 692.7 278.3 C695.6 282.5 698.9 286.4 702.0 290.2 C705.1 293.9 708.4 297.7 711.2 300.8 C714.1 303.9 716.2 306.3 719.1 308.7 C722.0 311.1 725.0 313.2 728.3 315.3 C731.6 317.4 735.4 319.4 738.9 321.2 C742.4 322.9 746.1 324.1 749.4 325.8 C752.7 327.5 755.6 329.1 758.7 331.1 C761.8 333.1 764.8 335.4 767.9 337.7 C771.0 340.0 774.0 342.4 777.1 345.0 C780.2 347.6 783.4 351.4 786.2 353.5 C789.0 355.6 790.8 356.4 794.1 357.6 C797.4 358.9 802.0 359.3 806.0 361.0 C810.0 362.7 814.6 365.7 817.8 368.0 C821.0 370.3 823.1 372.5 825.0 375.0 C826.9 377.5 828.3 380.1 829.3 383.0 C830.3 385.9 832.5 390.6 830.9 392.6 C829.3 394.6 824.1 394.1 819.6 395.1 C815.1 396.1 809.4 396.6 803.7 398.5 C798.0 400.4 792.2 403.6 785.4 406.5 C778.5 409.4 770.2 412.8 762.6 415.7 C755.0 418.6 746.9 421.2 739.7 423.7 C732.5 426.2 726.1 428.2 719.2 430.5 C712.4 432.8 705.1 434.7 698.6 437.4 C692.1 440.1 686.1 443.3 680.4 446.5 C674.7 449.7 669.7 453.6 664.4 456.8 C659.1 460.0 653.7 463.2 648.4 465.9 C643.1 468.5 637.3 470.0 632.4 472.7 C627.5 475.4 624.0 478.5 618.7 481.9 C613.4 485.3 605.8 489.7 600.5 493.3 C595.2 496.9 591.4 499.4 586.8 503.6 C582.2 507.8 577.3 512.9 573.1 518.4 C568.9 523.9 565.4 530.6 561.6 536.7 C557.8 542.8 554.4 548.8 550.2 554.9 C546.0 561.0 541.1 568.4 536.5 573.2 C531.9 578.0 525.1 581.8 522.8 583.5" stroke="#000" stroke-width="4.6"/></g></g>
<path d="M80.4 310.50H1621 M80.4 538.60H1621 M80.4 782.10H1621 M80.4 1051.30H1621" stroke="#000" stroke-width="1" stroke-dasharray="1.05 1.72" fill="none"/><path d="M300.03 89.4V1052 M740.08 89.4V1052 M1180.12 89.4V1052 M1620.18 89.4V1052" stroke="#000" stroke-width="1.5" stroke-dasharray="1.05 1.72" fill="none"/>
<rect x="80.4" y="89.4" width="1541.1" height="962.95" fill="none" stroke="#000" stroke-width="1.1"/>
<rect x="1274.4" y="874.8" width="339.2" height="168.4" rx="4.5" fill="#fff" stroke="#000" stroke-width="1.1"/><path d="M1281.0 887.0H1315.3" stroke="#5a5a5a" stroke-width="1.25"/><path d="M1281.0 910.3H1315.3" stroke="#f05a1e" stroke-width="1.2"/><path d="M1281.0 933.3H1315.3" stroke="#8c8c00" stroke-width="1.2"/><path d="M1281.0 957.4H1315.3" stroke="#1e8c1e" stroke-width="1.2"/><path d="M1279 979.7H1316" stroke="#8b008b" stroke-width="3.6"/><path d="M1279 1003.0H1316" stroke="#000" stroke-width="3.8"/><path d="M1295.2 1025.4 A4.3 4.3 0 1 0 1302.0 1027.2" stroke="#000" stroke-width="2.7" fill="none"/><path d="M1298.2 1023.3H1304.2V1025.9H1301.6L1300.9 1029.3H1298.2Z" fill="#000"/>
<rect x="1665.6" y="892.42" width="20.0" height="47.17" fill="rgb(215,230,244)"/><rect x="1665.6" y="845.55" width="20.0" height="47.17" fill="rgb(204,223,241)"/><rect x="1665.6" y="798.67" width="20.0" height="47.17" fill="rgb(191,216,236)"/><rect x="1665.6" y="751.80" width="20.0" height="47.17" fill="rgb(173,208,230)"/><rect x="1665.6" y="704.92" width="20.0" height="47.17" fill="rgb(154,199,224)"/><rect x="1665.6" y="658.05" width="20.0" height="47.17" fill="rgb(131,187,219)"/><rect x="1665.6" y="611.17" width="20.0" height="47.17" fill="rgb(109,175,214)"/><rect x="1665.6" y="564.30" width="20.0" height="47.17" fill="rgb(89,162,207)"/><rect x="1665.6" y="517.42" width="20.0" height="47.17" fill="rgb(71,149,200)"/><rect x="1665.6" y="470.55" width="20.0" height="47.17" fill="rgb(56,136,192)"/><rect x="1665.6" y="423.67" width="20.0" height="47.17" fill="rgb(40,120,184)"/><rect x="1665.6" y="376.80" width="20.0" height="47.17" fill="rgb(27,106,175)"/><rect x="1665.6" y="329.92" width="20.0" height="47.17" fill="rgb(16,92,164)"/><rect x="1665.6" y="283.05" width="20.0" height="47.17" fill="rgb(8,76,150)"/><rect x="1665.6" y="236.17" width="20.0" height="47.17" fill="rgb(8,62,128)"/><rect x="1665.6" y="189.30" width="20.0" height="47.17" fill="rgb(8,48,107)"/><rect x="1665.6" y="189.30" width="20.0" height="750.00" fill="none" stroke="#000" stroke-width="1.1"/><path d="M1685.6 939.80h5" stroke="#000" stroke-width="1"/><path d="M1685.6 822.61h5" stroke="#000" stroke-width="1"/><path d="M1685.6 705.42h5" stroke="#000" stroke-width="1"/><path d="M1685.6 588.24h5" stroke="#000" stroke-width="1"/><path d="M1685.6 471.05h5" stroke="#000" stroke-width="1"/><path d="M1685.6 353.86h5" stroke="#000" stroke-width="1"/><path d="M1685.6 236.67h5" stroke="#000" stroke-width="1"/>
<rect x="25.4" y="1137.4" width="1640.1" height="40.9" fill="#9e0142" stroke="#000" stroke-width="1.1"/><path d="M25.4 1158.4h-5" stroke="#000" stroke-width="1"/><path d="M25.40 1178.3v5 M66.40 1178.3v5 M107.40 1178.3v5 M148.41 1178.3v5 M189.41 1178.3v5 M230.41 1178.3v5 M271.41 1178.3v5 M312.42 1178.3v5 M353.42 1178.3v5 M394.42 1178.3v5 M435.42 1178.3v5 M476.43 1178.3v5 M517.43 1178.3v5 M558.43 1178.3v5 M599.43 1178.3v5 M640.44 1178.3v5 M681.44 1178.3v5 M722.44 1178.3v5 M763.44 1178.3v5 M804.45 1178.3v5 M845.45 1178.3v5 M886.45 1178.3v5 M927.45 1178.3v5 M968.46 1178.3v5 M1009.46 1178.3v5 M1050.46 1178.3v5 M1091.46 1178.3v5 M1132.47 1178.3v5 M1173.47 1178.3v5 M1214.47 1178.3v5 M1255.48 1178.3v5 M1296.48 1178.3v5 M1337.48 1178.3v5 M1378.48 1178.3v5 M1419.48 1178.3v5 M1460.49 1178.3v5 M1501.49 1178.3v5 M1542.49 1178.3v5 M1583.50 1178.3v5 M1624.50 1178.3v5 M1665.50 1178.3v5" stroke="#000" stroke-width="1"/>
<text x="80.6" y="22.0" font-size="16.9" font-weight="bold" text-anchor="start" textLength="448.5" lengthAdjust="spacingAndGlyphs" >Maximum forecast trajectory duration : 10 days</text><text x="80.6" y="40.9" font-size="16.9" font-weight="bold" text-anchor="start" textLength="245.5" lengthAdjust="spacingAndGlyphs" >Intercept distance: 300km</text><text x="80.6" y="60.8" font-size="16.9" font-weight="bold" text-anchor="start" textLength="227.0" lengthAdjust="spacingAndGlyphs" >Intercept RW2: 12km/h2</text><text x="615.0" y="62.1" font-size="43.3" font-weight="bold" text-anchor="start" textLength="468.5" lengthAdjust="spacingAndGlyphs" >Thu. 15/01, 06h (LT)</text><text x="1205.0" y="21.9" font-size="16.9" font-weight="bold" text-anchor="start" textLength="100.0" lengthAdjust="spacingAndGlyphs" >Site: Mahe</text><text x="1205.0" y="41.1" font-size="16.9" font-weight="bold" text-anchor="start" textLength="351.5" lengthAdjust="spacingAndGlyphs" >Forecast date: Wed. 14/01, 12h (UTC)</text><text x="1205.0" y="59.9" font-size="16.9" font-weight="bold" text-anchor="start" textLength="356.0" lengthAdjust="spacingAndGlyphs" >Speed function: U10_speed_Helikite_4</text><text x="1205.0" y="79.8" font-size="16.9" font-weight="bold" text-anchor="start" textLength="378.5" lengthAdjust="spacingAndGlyphs" >Deployment date: Thu. 15/01, 02h (UTC)</text><text x="63.0" y="315.9" font-size="22.8" font-weight="bold" text-anchor="end" textLength="52.3" lengthAdjust="spacingAndGlyphs" >10°S</text><text x="63.0" y="544.0" font-size="22.8" font-weight="bold" text-anchor="end" textLength="52.3" lengthAdjust="spacingAndGlyphs" >20°S</text><text x="63.0" y="787.2" font-size="22.8" font-weight="bold" text-anchor="end" textLength="52.3" lengthAdjust="spacingAndGlyphs" >30°S</text><text x="299.8" y="1082.7" font-size="22.8" font-weight="bold" text-anchor="middle" textLength="51.5" lengthAdjust="spacingAndGlyphs" >40°E</text><text x="739.9" y="1082.7" font-size="22.8" font-weight="bold" text-anchor="middle" textLength="51.5" lengthAdjust="spacingAndGlyphs" >60°E</text><text x="1179.9" y="1082.7" font-size="22.8" font-weight="bold" text-anchor="middle" textLength="51.5" lengthAdjust="spacingAndGlyphs" >80°E</text><text x="1620.0" y="1082.7" font-size="22.8" font-weight="bold" text-anchor="middle" textLength="66.0" lengthAdjust="spacingAndGlyphs" >100°E</text><text x="1326.5" y="893.0" font-size="17.5" font-weight="normal" text-anchor="start" textLength="128.5" lengthAdjust="spacingAndGlyphs" >No Interception</text><text x="1326.5" y="916.3" font-size="17.5" font-weight="normal" text-anchor="start" textLength="279.0" lengthAdjust="spacingAndGlyphs" >Interception from Named cyclone</text><text x="1326.5" y="939.3" font-size="17.5" font-weight="normal" text-anchor="start" textLength="219.3" lengthAdjust="spacingAndGlyphs" >Interception from Trochoid</text><text x="1326.5" y="963.4" font-size="17.5" font-weight="normal" text-anchor="start" textLength="187.8" lengthAdjust="spacingAndGlyphs" >Interception from both</text><text x="1326.5" y="985.7" font-size="17.5" font-weight="normal" text-anchor="start" textLength="43.5" lengthAdjust="spacingAndGlyphs" >HRES</text><text x="1326.5" y="1009.0" font-size="17.5" font-weight="normal" text-anchor="start" textLength="203.0" lengthAdjust="spacingAndGlyphs" >Analysis | 238h duration</text><text x="1326.5" y="1034.3" font-size="17.5" font-weight="normal" text-anchor="start" textLength="237.2" lengthAdjust="spacingAndGlyphs" >TC obs. for analysis duration</text><text x="1695.2" y="945.4" font-size="14.8" font-weight="normal" text-anchor="start" textLength="8.1" lengthAdjust="spacingAndGlyphs" >0</text><text x="1695.2" y="828.2" font-size="14.8" font-weight="normal" text-anchor="start" textLength="8.1" lengthAdjust="spacingAndGlyphs" >5</text><text x="1695.2" y="711.0" font-size="14.8" font-weight="normal" text-anchor="start" textLength="16.3" lengthAdjust="spacingAndGlyphs" >10</text><text x="1695.2" y="593.8" font-size="14.8" font-weight="normal" text-anchor="start" textLength="16.3" lengthAdjust="spacingAndGlyphs" >15</text><text x="1695.2" y="476.6" font-size="14.8" font-weight="normal" text-anchor="start" textLength="16.3" lengthAdjust="spacingAndGlyphs" >20</text><text x="1695.2" y="359.5" font-size="14.8" font-weight="normal" text-anchor="start" textLength="16.3" lengthAdjust="spacingAndGlyphs" >25</text><text x="1695.2" y="242.3" font-size="14.8" font-weight="normal" text-anchor="start" textLength="16.3" lengthAdjust="spacingAndGlyphs" >30</text><text transform="translate(1737 923.6) rotate(-90)" font-size="20.3" font-weight="bold" textLength="629.9" lengthAdjust="spacingAndGlyphs">Named cyclones forecast - Number of GEFS within 120km</text><text x="25.9" y="1199.7" font-size="16.3" font-weight="bold" text-anchor="middle" textLength="21.8" lengthAdjust="spacingAndGlyphs" >0h</text><text x="189.9" y="1199.7" font-size="16.3" font-weight="bold" text-anchor="middle" textLength="33.0" lengthAdjust="spacingAndGlyphs" >12h</text><text x="353.9" y="1199.7" font-size="16.3" font-weight="bold" text-anchor="middle" textLength="33.0" lengthAdjust="spacingAndGlyphs" >24h</text><text x="517.9" y="1199.7" font-size="16.3" font-weight="bold" text-anchor="middle" textLength="33.0" lengthAdjust="spacingAndGlyphs" >36h</text><text x="681.9" y="1199.7" font-size="16.3" font-weight="bold" text-anchor="middle" textLength="33.0" lengthAdjust="spacingAndGlyphs" >48h</text><text x="845.9" y="1199.7" font-size="16.3" font-weight="bold" text-anchor="middle" textLength="33.0" lengthAdjust="spacingAndGlyphs" >60h</text><text x="1010.0" y="1199.7" font-size="16.3" font-weight="bold" text-anchor="middle" textLength="33.0" lengthAdjust="spacingAndGlyphs" >72h</text><text x="1174.0" y="1199.7" font-size="16.3" font-weight="bold" text-anchor="middle" textLength="33.0" lengthAdjust="spacingAndGlyphs" >84h</text><text x="1338.0" y="1199.7" font-size="16.3" font-weight="bold" text-anchor="middle" textLength="33.0" lengthAdjust="spacingAndGlyphs" >96h</text><text x="1502.0" y="1199.7" font-size="16.3" font-weight="bold" text-anchor="middle" textLength="44.0" lengthAdjust="spacingAndGlyphs" >108h</text><text x="1666.0" y="1199.7" font-size="16.3" font-weight="bold" text-anchor="middle" textLength="44.0" lengthAdjust="spacingAndGlyphs" >120h</text><text x="551.0" y="1120.5" font-size="16.0" font-weight="bold" text-anchor="start" textLength="628.0" lengthAdjust="spacingAndGlyphs" >Percentage of flying ballons within a TC as a function of flight time</text>
</svg></body></html>
